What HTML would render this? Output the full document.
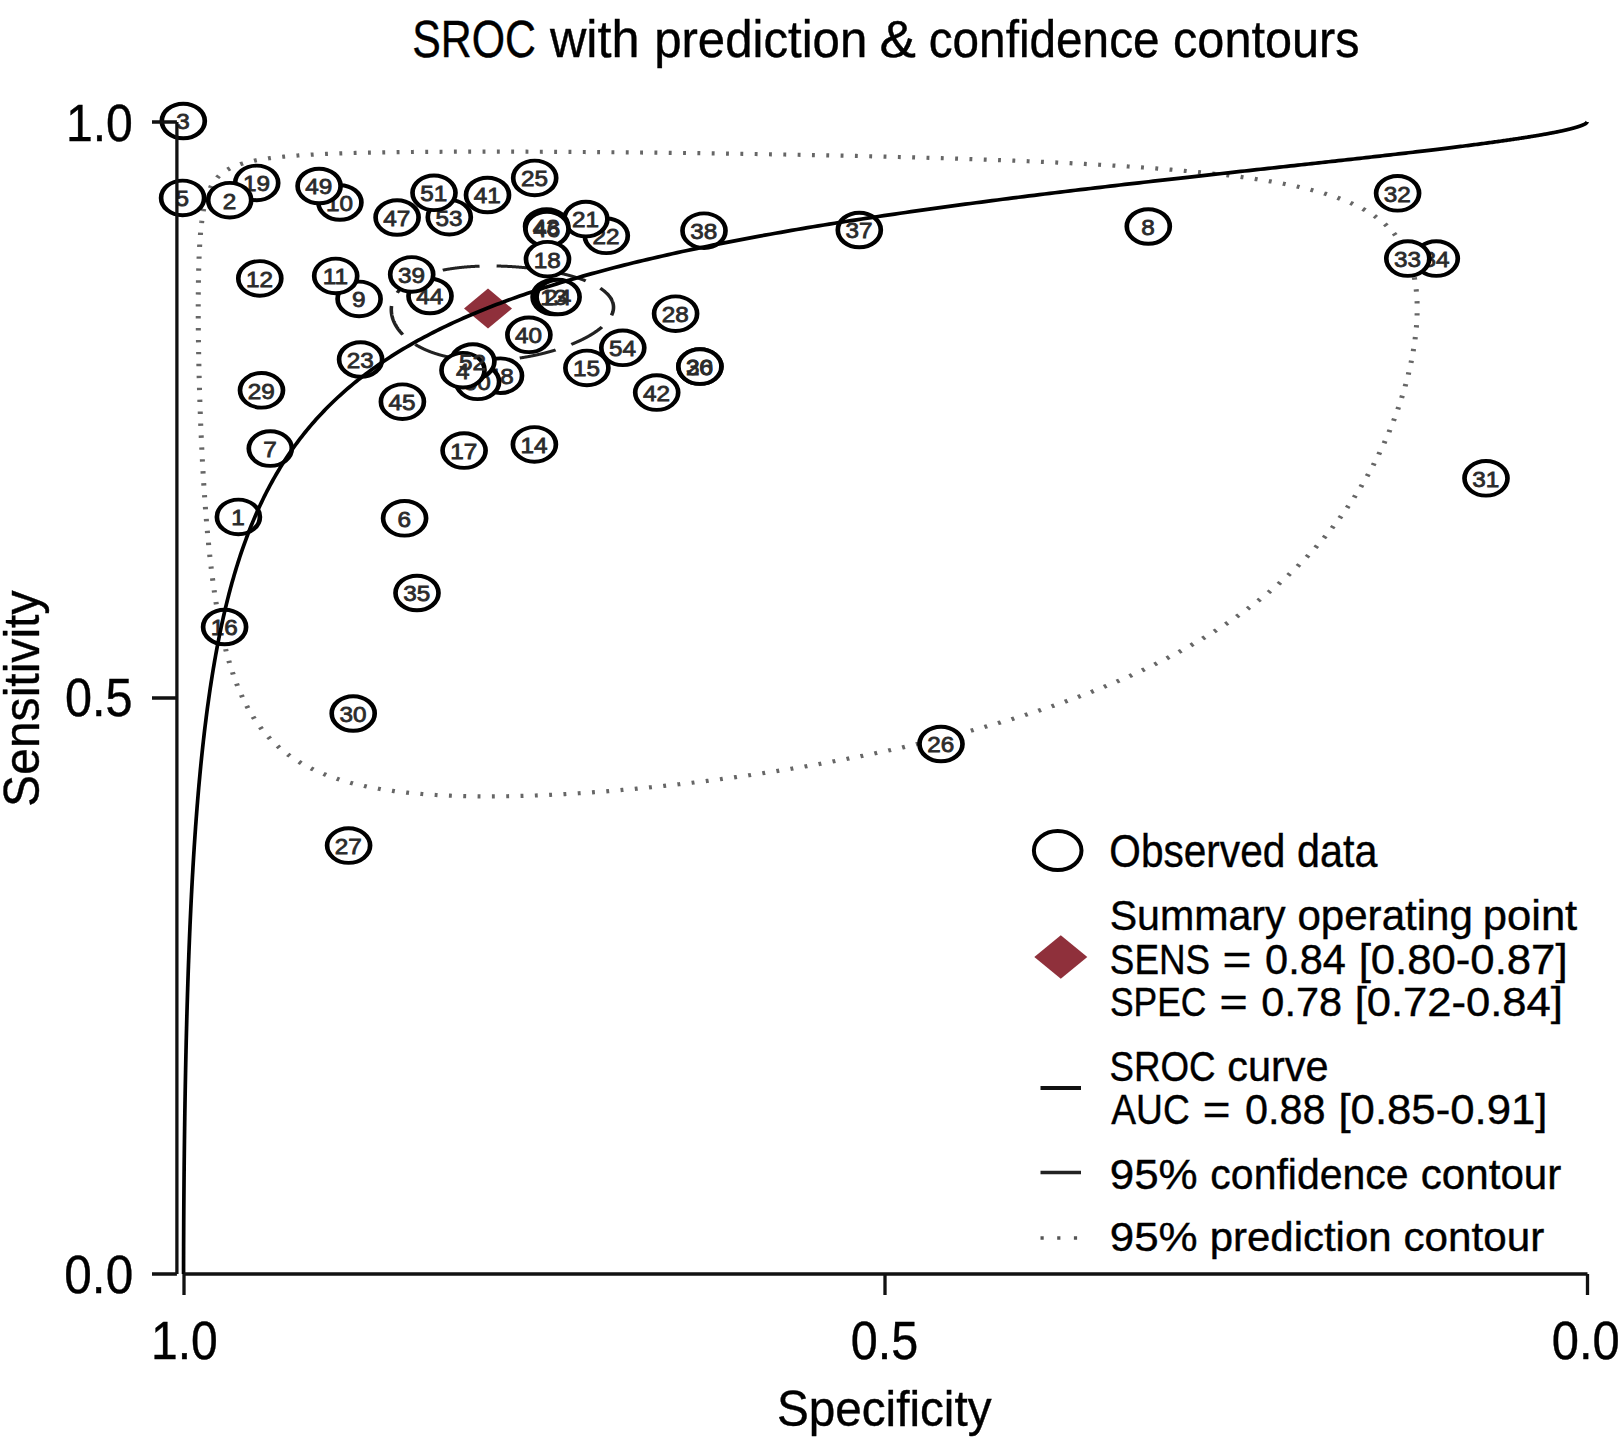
<!DOCTYPE html>
<html><head><meta charset="utf-8"><style>html,body{margin:0;padding:0;background:#fff}svg{display:block}</style></head>
<body><svg width="1620" height="1453" viewBox="0 0 1620 1453">
<rect width="1620" height="1453" fill="#fff"/>
<path transform="scale(1.2,1)" d="M1180.98,308.50 L1180.98,307.85 L1180.98,307.20 L1180.98,306.55 L1180.97,305.91 L1180.96,305.27 L1180.95,304.62 L1180.94,303.98 L1180.93,303.35 L1180.91,302.71 L1180.90,302.08 L1180.88,301.45 L1180.86,300.81 L1180.83,300.19 L1180.81,299.56 L1180.78,298.93 L1180.76,298.31 L1180.73,297.69 L1180.70,297.07 L1180.66,296.45 L1180.63,295.84 L1180.59,295.22 L1180.55,294.61 L1180.51,294.00 L1180.47,293.39 L1180.43,292.79 L1180.38,292.18 L1180.33,291.58 L1180.28,290.98 L1180.23,290.38 L1180.18,289.78 L1180.13,289.19 L1180.07,288.60 L1180.01,288.00 L1179.95,287.41 L1179.89,286.83 L1179.83,286.24 L1179.76,285.65 L1179.69,285.07 L1179.62,284.49 L1179.55,283.91 L1179.48,283.34 L1179.40,282.76 L1179.33,282.19 L1179.25,281.62 L1179.17,281.05 L1179.09,280.48 L1179.00,279.91 L1178.92,279.35 L1178.83,278.79 L1178.74,278.22 L1178.65,277.67 L1178.56,277.11 L1178.46,276.55 L1178.37,276.00 L1178.27,275.45 L1178.17,274.90 L1178.07,274.35 L1177.96,273.80 L1177.85,273.26 L1177.75,272.72 L1177.64,272.18 L1177.53,271.64 L1177.41,271.10 L1177.30,270.57 L1177.18,270.03 L1177.06,269.50 L1176.94,268.97 L1176.82,268.44 L1176.69,267.92 L1176.56,267.39 L1176.44,266.87 L1176.31,266.35 L1176.17,265.83 L1176.04,265.31 L1175.90,264.79 L1175.76,264.28 L1175.62,263.77 L1175.48,263.26 L1175.34,262.75 L1175.19,262.24 L1175.04,261.74 L1174.89,261.23 L1174.74,260.73 L1174.59,260.23 L1174.43,259.73 L1174.27,259.24 L1174.11,258.74 L1173.95,258.25 L1173.79,257.76 L1173.62,257.27 L1173.46,256.78 L1173.29,256.29 L1173.11,255.81 L1172.94,255.33 L1172.76,254.84 L1172.59,254.36 L1172.41,253.89 L1172.23,253.41 L1172.04,252.94 L1171.86,252.46 L1171.67,251.99 L1171.48,251.52 L1171.29,251.06 L1171.09,250.59 L1170.90,250.13 L1170.70,249.67 L1170.50,249.20 L1170.30,248.75 L1170.09,248.29 L1169.89,247.83 L1169.68,247.38 L1169.47,246.93 L1169.25,246.48 L1169.04,246.03 L1168.82,245.58 L1168.60,245.13 L1168.38,244.69 L1168.16,244.25 L1167.93,243.81 L1167.70,243.37 L1167.48,242.93 L1167.24,242.49 L1167.01,242.06 L1166.77,241.63 L1166.53,241.20 L1166.29,240.77 L1166.05,240.34 L1165.81,239.91 L1165.56,239.49 L1165.31,239.07 L1165.06,238.64 L1164.80,238.22 L1164.55,237.81 L1164.29,237.39 L1164.03,236.97 L1163.77,236.56 L1163.50,236.15 L1163.23,235.74 L1162.96,235.33 L1162.69,234.92 L1162.42,234.52 L1162.14,234.11 L1161.86,233.71 L1161.58,233.31 L1161.30,232.91 L1161.01,232.51 L1160.73,232.12 L1160.43,231.72 L1160.14,231.33 L1159.85,230.94 L1159.55,230.55 L1159.25,230.16 L1158.95,229.77 L1158.64,229.38 L1158.34,229.00 L1158.03,228.62 L1157.71,228.24 L1157.40,227.86 L1157.08,227.48 L1156.77,227.10 L1156.44,226.73 L1156.12,226.35 L1155.79,225.98 L1155.46,225.61 L1155.13,225.24 L1154.80,224.87 L1154.46,224.51 L1154.12,224.14 L1153.78,223.78 L1153.44,223.42 L1153.09,223.06 L1152.74,222.70 L1152.39,222.34 L1152.04,221.98 L1151.68,221.63 L1151.32,221.27 L1150.96,220.92 L1150.60,220.57 L1150.23,220.22 L1149.86,219.87 L1149.49,219.53 L1149.11,219.18 L1148.74,218.84 L1148.36,218.50 L1147.97,218.16 L1147.59,217.82 L1147.20,217.48 L1146.81,217.14 L1146.41,216.81 L1146.02,216.47 L1145.62,216.14 L1145.22,215.81 L1144.81,215.48 L1144.41,215.15 L1144.00,214.83 L1143.58,214.50 L1143.17,214.17 L1142.75,213.85 L1142.33,213.53 L1141.91,213.21 L1141.48,212.89 L1141.05,212.57 L1140.62,212.26 L1140.18,211.94 L1139.74,211.63 L1139.30,211.31 L1138.86,211.00 L1138.41,210.69 L1137.96,210.38 L1137.51,210.08 L1137.05,209.77 L1136.60,209.47 L1136.14,209.16 L1135.67,208.86 L1135.20,208.56 L1134.73,208.26 L1134.26,207.96 L1133.78,207.66 L1133.31,207.37 L1132.82,207.07 L1132.34,206.78 L1131.85,206.49 L1131.36,206.20 L1130.86,205.91 L1130.37,205.62 L1129.87,205.33 L1129.36,205.04 L1128.85,204.76 L1128.34,204.48 L1127.83,204.19 L1127.32,203.91 L1126.80,203.63 L1126.27,203.35 L1125.75,203.08 L1125.22,202.80 L1124.69,202.52 L1124.15,202.25 L1123.61,201.98 L1123.07,201.70 L1122.53,201.43 L1121.98,201.16 L1121.43,200.90 L1120.87,200.63 L1120.31,200.36 L1119.75,200.10 L1119.19,199.83 L1118.62,199.57 L1118.05,199.31 L1117.47,199.05 L1116.89,198.79 L1116.31,198.53 L1115.73,198.28 L1115.14,198.02 L1114.54,197.76 L1113.95,197.51 L1113.35,197.26 L1112.75,197.01 L1112.14,196.76 L1111.53,196.51 L1110.92,196.26 L1110.30,196.01 L1109.68,195.77 L1109.06,195.52 L1108.43,195.28 L1107.80,195.03 L1107.17,194.79 L1106.53,194.55 L1105.89,194.31 L1105.24,194.07 L1104.60,193.84 L1103.94,193.60 L1103.29,193.36 L1102.63,193.13 L1101.97,192.90 L1101.30,192.66 L1100.63,192.43 L1099.95,192.20 L1099.28,191.97 L1098.59,191.75 L1097.91,191.52 L1097.22,191.29 L1096.53,191.07 L1095.83,190.84 L1095.13,190.62 L1094.42,190.40 L1093.71,190.18 L1093.00,189.96 L1092.29,189.74 L1091.57,189.52 L1090.84,189.30 L1090.11,189.08 L1089.38,188.87 L1088.65,188.65 L1087.91,188.44 L1087.16,188.23 L1086.42,188.02 L1085.67,187.81 L1084.91,187.60 L1084.15,187.39 L1083.39,187.18 L1082.62,186.97 L1081.85,186.77 L1081.07,186.56 L1080.29,186.36 L1079.51,186.15 L1078.72,185.95 L1077.93,185.75 L1077.13,185.55 L1076.33,185.35 L1075.53,185.15 L1074.72,184.96 L1073.91,184.76 L1073.09,184.56 L1072.27,184.37 L1071.45,184.17 L1070.62,183.98 L1069.78,183.79 L1068.94,183.60 L1068.10,183.41 L1067.26,183.22 L1066.41,183.03 L1065.55,182.84 L1064.69,182.65 L1063.83,182.47 L1062.96,182.28 L1062.09,182.10 L1061.21,181.91 L1060.33,181.73 L1059.44,181.55 L1058.56,181.37 L1057.66,181.19 L1056.76,181.01 L1055.86,180.83 L1054.95,180.65 L1054.04,180.47 L1053.12,180.30 L1052.20,180.12 L1051.28,179.95 L1050.35,179.77 L1049.42,179.60 L1048.48,179.43 L1047.53,179.26 L1046.59,179.08 L1045.63,178.92 L1044.68,178.75 L1043.72,178.58 L1042.75,178.41 L1041.78,178.24 L1040.80,178.08 L1039.82,177.91 L1038.84,177.75 L1037.85,177.58 L1036.86,177.42 L1035.86,177.26 L1034.86,177.10 L1033.85,176.94 L1032.84,176.78 L1031.82,176.62 L1030.80,176.46 L1029.77,176.30 L1028.74,176.15 L1027.71,175.99 L1026.67,175.84 L1025.62,175.68 L1024.57,175.53 L1023.52,175.37 L1022.46,175.22 L1021.40,175.07 L1020.33,174.92 L1019.25,174.77 L1018.17,174.62 L1017.09,174.47 L1016.00,174.32 L1014.91,174.17 L1013.81,174.03 L1012.71,173.88 L1011.60,173.74 L1010.49,173.59 L1009.38,173.45 L1008.25,173.30 L1007.13,173.16 L1006.00,173.02 L1004.86,172.88 L1003.72,172.74 L1002.57,172.60 L1001.42,172.46 L1000.27,172.32 L999.11,172.18 L997.94,172.05 L996.77,171.91 L995.60,171.77 L994.42,171.64 L993.23,171.50 L992.04,171.37 L990.85,171.24 L989.65,171.10 L988.44,170.97 L987.23,170.84 L986.02,170.71 L984.80,170.58 L983.57,170.45 L982.34,170.32 L981.11,170.19 L979.87,170.07 L978.63,169.94 L977.38,169.81 L976.12,169.69 L974.86,169.56 L973.60,169.44 L972.33,169.31 L971.06,169.19 L969.78,169.07 L968.50,168.95 L967.21,168.82 L965.91,168.70 L964.61,168.58 L963.31,168.46 L962.00,168.34 L960.69,168.23 L959.37,168.11 L958.05,167.99 L956.72,167.87 L955.39,167.76 L954.05,167.64 L952.71,167.53 L951.36,167.41 L950.01,167.30 L948.65,167.19 L947.29,167.07 L945.92,166.96 L944.55,166.85 L943.17,166.74 L941.79,166.63 L940.40,166.52 L939.01,166.41 L937.61,166.30 L936.21,166.19 L934.80,166.09 L933.39,165.98 L931.98,165.87 L930.56,165.77 L929.13,165.66 L927.70,165.56 L926.27,165.45 L924.83,165.35 L923.38,165.24 L921.93,165.14 L920.48,165.04 L919.02,164.94 L917.55,164.84 L916.09,164.73 L914.61,164.63 L913.13,164.53 L911.65,164.44 L910.16,164.34 L908.67,164.24 L907.18,164.14 L905.67,164.04 L904.17,163.95 L902.66,163.85 L901.14,163.76 L899.62,163.66 L898.10,163.57 L896.57,163.47 L895.04,163.38 L893.50,163.28 L891.96,163.19 L890.41,163.10 L888.86,163.01 L887.30,162.92 L885.74,162.83 L884.18,162.74 L882.61,162.65 L881.04,162.56 L879.46,162.47 L877.88,162.38 L876.29,162.29 L874.70,162.20 L873.10,162.12 L871.50,162.03 L869.90,161.94 L868.29,161.86 L866.68,161.77 L865.06,161.69 L863.44,161.61 L861.82,161.52 L860.19,161.44 L858.56,161.36 L856.92,161.27 L855.28,161.19 L853.64,161.11 L851.99,161.03 L850.33,160.95 L848.68,160.87 L847.02,160.79 L845.35,160.71 L843.68,160.63 L842.01,160.55 L840.34,160.47 L838.66,160.40 L836.97,160.32 L835.28,160.24 L833.59,160.17 L831.90,160.09 L830.20,160.02 L828.50,159.94 L826.79,159.87 L825.08,159.79 L823.37,159.72 L821.66,159.64 L819.94,159.57 L818.21,159.50 L816.49,159.43 L814.76,159.36 L813.02,159.28 L811.29,159.21 L809.55,159.14 L807.81,159.07 L806.06,159.00 L804.31,158.93 L802.56,158.87 L800.80,158.80 L799.04,158.73 L797.28,158.66 L795.52,158.59 L793.75,158.53 L791.98,158.46 L790.21,158.40 L788.43,158.33 L786.65,158.26 L784.87,158.20 L783.09,158.14 L781.30,158.07 L779.51,158.01 L777.72,157.94 L775.92,157.88 L774.13,157.82 L772.33,157.76 L770.53,157.69 L768.72,157.63 L766.91,157.57 L765.10,157.51 L763.29,157.45 L761.48,157.39 L759.66,157.33 L757.84,157.27 L756.02,157.21 L754.20,157.16 L752.38,157.10 L750.55,157.04 L748.72,156.98 L746.89,156.93 L745.06,156.87 L743.23,156.81 L741.39,156.76 L739.55,156.70 L737.71,156.65 L735.87,156.59 L734.03,156.54 L732.18,156.48 L730.34,156.43 L728.49,156.37 L726.64,156.32 L724.79,156.27 L722.94,156.22 L721.09,156.16 L719.24,156.11 L717.38,156.06 L715.53,156.01 L713.67,155.96 L711.81,155.91 L709.95,155.86 L708.09,155.81 L706.23,155.76 L704.37,155.71 L702.51,155.66 L700.64,155.61 L698.78,155.57 L696.91,155.52 L695.05,155.47 L693.18,155.42 L691.31,155.38 L689.45,155.33 L687.58,155.29 L685.71,155.24 L683.84,155.19 L681.97,155.15 L680.11,155.10 L678.24,155.06 L676.37,155.02 L674.50,154.97 L672.63,154.93 L670.76,154.89 L668.89,154.84 L667.02,154.80 L665.15,154.76 L663.28,154.72 L661.41,154.68 L659.55,154.63 L657.68,154.59 L655.81,154.55 L653.94,154.51 L652.08,154.47 L650.21,154.43 L648.35,154.39 L646.48,154.35 L644.62,154.32 L642.75,154.28 L640.89,154.24 L639.03,154.20 L637.17,154.16 L635.31,154.13 L633.45,154.09 L631.59,154.05 L629.74,154.02 L627.88,153.98 L626.02,153.95 L624.17,153.91 L622.32,153.87 L620.47,153.84 L618.62,153.81 L616.77,153.77 L614.92,153.74 L613.08,153.70 L611.24,153.67 L609.39,153.64 L607.55,153.60 L605.72,153.57 L603.88,153.54 L602.04,153.51 L600.21,153.48 L598.38,153.45 L596.55,153.41 L594.72,153.38 L592.90,153.35 L591.07,153.32 L589.25,153.29 L587.43,153.26 L585.62,153.23 L583.80,153.21 L581.99,153.18 L580.18,153.15 L578.37,153.12 L576.57,153.09 L574.77,153.06 L572.97,153.04 L571.17,153.01 L569.37,152.98 L567.58,152.96 L565.79,152.93 L564.00,152.91 L562.22,152.88 L560.44,152.85 L558.66,152.83 L556.88,152.80 L555.11,152.78 L553.34,152.76 L551.58,152.73 L549.81,152.71 L548.05,152.68 L546.29,152.66 L544.54,152.64 L542.79,152.62 L541.04,152.59 L539.30,152.57 L537.56,152.55 L535.82,152.53 L534.08,152.51 L532.35,152.49 L530.63,152.47 L528.90,152.45 L527.18,152.42 L525.46,152.41 L523.75,152.39 L522.04,152.37 L520.34,152.35 L518.63,152.33 L516.94,152.31 L515.24,152.29 L513.55,152.27 L511.86,152.26 L510.18,152.24 L508.50,152.22 L506.83,152.20 L505.16,152.19 L503.49,152.17 L501.83,152.15 L500.17,152.14 L498.51,152.12 L496.86,152.11 L495.21,152.09 L493.57,152.08 L491.93,152.06 L490.30,152.05 L488.67,152.03 L487.05,152.02 L485.43,152.01 L483.81,151.99 L482.20,151.98 L480.59,151.97 L478.99,151.96 L477.39,151.94 L475.79,151.93 L474.20,151.92 L472.62,151.91 L471.04,151.90 L469.46,151.89 L467.89,151.87 L466.32,151.86 L464.76,151.85 L463.21,151.84 L461.65,151.83 L460.11,151.83 L458.56,151.82 L457.02,151.81 L455.49,151.80 L453.96,151.79 L452.44,151.78 L450.92,151.77 L449.40,151.77 L447.90,151.76 L446.39,151.75 L444.89,151.74 L443.40,151.74 L441.91,151.73 L440.42,151.73 L438.94,151.72 L437.47,151.71 L436.00,151.71 L434.54,151.70 L433.08,151.70 L431.62,151.69 L430.17,151.69 L428.73,151.69 L427.29,151.68 L425.86,151.68 L424.43,151.67 L423.00,151.67 L421.59,151.67 L420.17,151.67 L418.76,151.66 L417.36,151.66 L415.96,151.66 L414.57,151.66 L413.18,151.66 L411.80,151.66 L410.43,151.66 L409.05,151.65 L407.69,151.65 L406.33,151.65 L404.97,151.65 L403.62,151.66 L402.28,151.66 L400.94,151.66 L399.60,151.66 L398.27,151.66 L396.95,151.66 L395.63,151.66 L394.32,151.67 L393.01,151.67 L391.71,151.67 L390.41,151.67 L389.12,151.68 L387.83,151.68 L386.55,151.68 L385.27,151.69 L384.00,151.69 L382.74,151.70 L381.48,151.70 L380.22,151.71 L378.97,151.71 L377.73,151.72 L376.49,151.72 L375.26,151.73 L374.03,151.73 L372.81,151.74 L371.59,151.75 L370.38,151.76 L369.17,151.76 L367.97,151.77 L366.77,151.78 L365.58,151.79 L364.40,151.79 L363.22,151.80 L362.04,151.81 L360.87,151.82 L359.71,151.83 L358.55,151.84 L357.40,151.85 L356.25,151.86 L355.11,151.87 L353.97,151.88 L352.84,151.89 L351.71,151.90 L350.59,151.91 L349.47,151.93 L348.36,151.94 L347.26,151.95 L346.16,151.96 L345.06,151.97 L343.97,151.99 L342.89,152.00 L341.81,152.01 L340.73,152.03 L339.66,152.04 L338.60,152.06 L337.54,152.07 L336.49,152.08 L335.44,152.10 L334.39,152.12 L333.36,152.13 L332.32,152.15 L331.29,152.16 L330.27,152.18 L329.25,152.20 L328.24,152.21 L327.23,152.23 L326.23,152.25 L325.23,152.26 L324.24,152.28 L323.26,152.30 L322.27,152.32 L321.30,152.34 L320.32,152.36 L319.36,152.38 L318.39,152.40 L317.44,152.41 L316.49,152.43 L315.54,152.46 L314.60,152.48 L313.66,152.50 L312.73,152.52 L311.80,152.54 L310.88,152.56 L309.96,152.58 L309.04,152.60 L308.14,152.63 L307.23,152.65 L306.33,152.67 L305.44,152.70 L304.55,152.72 L303.67,152.74 L302.79,152.77 L301.91,152.79 L301.04,152.82 L300.18,152.84 L299.32,152.87 L298.46,152.89 L297.61,152.92 L296.76,152.94 L295.92,152.97 L295.09,153.00 L294.25,153.02 L293.42,153.05 L292.60,153.08 L291.78,153.11 L290.97,153.13 L290.16,153.16 L289.35,153.19 L288.55,153.22 L287.76,153.25 L286.96,153.28 L286.18,153.31 L285.39,153.34 L284.61,153.37 L283.84,153.40 L283.07,153.43 L282.31,153.46 L281.54,153.49 L280.79,153.52 L280.04,153.56 L279.29,153.59 L278.54,153.62 L277.80,153.65 L277.07,153.69 L276.34,153.72 L275.61,153.75 L274.89,153.79 L274.17,153.82 L273.45,153.86 L272.74,153.89 L272.04,153.93 L271.34,153.96 L270.64,154.00 L269.94,154.03 L269.25,154.07 L268.57,154.11 L267.89,154.15 L267.21,154.18 L266.54,154.22 L265.87,154.26 L265.20,154.30 L264.54,154.33 L263.88,154.37 L263.23,154.41 L262.58,154.45 L261.93,154.49 L261.29,154.53 L260.65,154.57 L260.01,154.61 L259.38,154.65 L258.76,154.70 L258.13,154.74 L257.51,154.78 L256.90,154.82 L256.29,154.86 L255.68,154.91 L255.07,154.95 L254.47,154.99 L253.87,155.04 L253.28,155.08 L252.69,155.13 L252.10,155.17 L251.52,155.22 L250.94,155.26 L250.36,155.31 L249.79,155.35 L249.22,155.40 L248.66,155.45 L248.09,155.50 L247.53,155.54 L246.98,155.59 L246.43,155.64 L245.88,155.69 L245.33,155.74 L244.79,155.79 L244.25,155.83 L243.72,155.88 L243.19,155.93 L242.66,155.99 L242.13,156.04 L241.61,156.09 L241.09,156.14 L240.58,156.19 L240.06,156.24 L239.56,156.30 L239.05,156.35 L238.55,156.40 L238.05,156.46 L237.55,156.51 L237.06,156.56 L236.57,156.62 L236.08,156.67 L235.60,156.73 L235.11,156.78 L234.64,156.84 L234.16,156.90 L233.69,156.95 L233.22,157.01 L232.75,157.07 L232.29,157.13 L231.83,157.18 L231.37,157.24 L230.92,157.30 L230.47,157.36 L230.02,157.42 L229.57,157.48 L229.13,157.54 L228.69,157.60 L228.25,157.66 L227.82,157.73 L227.39,157.79 L226.96,157.85 L226.53,157.91 L226.11,157.98 L225.68,158.04 L225.27,158.10 L224.85,158.17 L224.44,158.23 L224.03,158.30 L223.62,158.36 L223.21,158.43 L222.81,158.49 L222.41,158.56 L222.02,158.63 L221.62,158.70 L221.23,158.76 L220.84,158.83 L220.45,158.90 L220.07,158.97 L219.68,159.04 L219.30,159.11 L218.93,159.18 L218.55,159.25 L218.18,159.32 L217.81,159.39 L217.44,159.46 L217.08,159.54 L216.71,159.61 L216.35,159.68 L215.99,159.75 L215.64,159.83 L215.29,159.90 L214.93,159.98 L214.58,160.05 L214.24,160.13 L213.89,160.20 L213.55,160.28 L213.21,160.36 L212.87,160.44 L212.54,160.51 L212.20,160.59 L211.87,160.67 L211.54,160.75 L211.22,160.83 L210.89,160.91 L210.57,160.99 L210.25,161.07 L209.93,161.15 L209.61,161.23 L209.30,161.31 L208.99,161.40 L208.68,161.48 L208.37,161.56 L208.06,161.65 L207.76,161.73 L207.46,161.82 L207.16,161.90 L206.86,161.99 L206.56,162.07 L206.27,162.16 L205.97,162.25 L205.68,162.34 L205.39,162.42 L205.11,162.51 L204.82,162.60 L204.54,162.69 L204.26,162.78 L203.98,162.87 L203.70,162.96 L203.43,163.05 L203.15,163.15 L202.88,163.24 L202.61,163.33 L202.34,163.42 L202.08,163.52 L201.81,163.61 L201.55,163.71 L201.29,163.80 L201.03,163.90 L200.77,164.00 L200.51,164.09 L200.26,164.19 L200.00,164.29 L199.75,164.39 L199.50,164.49 L199.26,164.58 L199.01,164.68 L198.76,164.78 L198.52,164.89 L198.28,164.99 L198.04,165.09 L197.80,165.19 L197.57,165.30 L197.33,165.40 L197.10,165.50 L196.86,165.61 L196.63,165.71 L196.40,165.82 L196.18,165.92 L195.95,166.03 L195.73,166.14 L195.50,166.25 L195.28,166.36 L195.06,166.46 L194.84,166.57 L194.63,166.68 L194.41,166.79 L194.20,166.91 L193.98,167.02 L193.77,167.13 L193.56,167.24 L193.35,167.36 L193.15,167.47 L192.94,167.59 L192.74,167.70 L192.53,167.82 L192.33,167.93 L192.13,168.05 L191.93,168.17 L191.73,168.29 L191.54,168.40 L191.34,168.52 L191.15,168.64 L190.95,168.76 L190.76,168.89 L190.57,169.01 L190.38,169.13 L190.20,169.25 L190.01,169.38 L189.83,169.50 L189.64,169.62 L189.46,169.75 L189.28,169.88 L189.10,170.00 L188.92,170.13 L188.74,170.26 L188.56,170.39 L188.39,170.52 L188.21,170.64 L188.04,170.78 L187.87,170.91 L187.70,171.04 L187.53,171.17 L187.36,171.30 L187.19,171.44 L187.03,171.57 L186.86,171.71 L186.70,171.84 L186.53,171.98 L186.37,172.11 L186.21,172.25 L186.05,172.39 L185.89,172.53 L185.73,172.67 L185.58,172.81 L185.42,172.95 L185.27,173.09 L185.11,173.23 L184.96,173.38 L184.81,173.52 L184.66,173.66 L184.51,173.81 L184.36,173.95 L184.21,174.10 L184.07,174.25 L183.92,174.40 L183.78,174.54 L183.63,174.69 L183.49,174.84 L183.35,174.99 L183.21,175.15 L183.07,175.30 L182.93,175.45 L182.79,175.60 L182.65,175.76 L182.52,175.91 L182.38,176.07 L182.25,176.22 L182.11,176.38 L181.98,176.54 L181.85,176.70 L181.72,176.86 L181.59,177.02 L181.46,177.18 L181.33,177.34 L181.20,177.50 L181.08,177.67 L180.95,177.83 L180.83,178.00 L180.70,178.16 L180.58,178.33 L180.46,178.49 L180.34,178.66 L180.22,178.83 L180.10,179.00 L179.98,179.17 L179.86,179.34 L179.74,179.51 L179.62,179.69 L179.51,179.86 L179.39,180.03 L179.28,180.21 L179.16,180.38 L179.05,180.56 L178.94,180.74 L178.83,180.92 L178.72,181.10 L178.61,181.28 L178.50,181.46 L178.39,181.64 L178.28,181.82 L178.17,182.00 L178.07,182.19 L177.96,182.37 L177.86,182.56 L177.75,182.75 L177.65,182.93 L177.55,183.12 L177.45,183.31 L177.34,183.50 L177.24,183.69 L177.14,183.88 L177.04,184.08 L176.94,184.27 L176.85,184.46 L176.75,184.66 L176.65,184.86 L176.56,185.05 L176.46,185.25 L176.37,185.45 L176.27,185.65 L176.18,185.85 L176.09,186.05 L175.99,186.26 L175.90,186.46 L175.81,186.66 L175.72,186.87 L175.63,187.08 L175.54,187.28 L175.45,187.49 L175.36,187.70 L175.28,187.91 L175.19,188.12 L175.10,188.33 L175.02,188.55 L174.93,188.76 L174.85,188.98 L174.76,189.19 L174.68,189.41 L174.60,189.63 L174.52,189.85 L174.43,190.07 L174.35,190.29 L174.27,190.51 L174.19,190.73 L174.11,190.95 L174.03,191.18 L173.95,191.40 L173.88,191.63 L173.80,191.86 L173.72,192.09 L173.65,192.32 L173.57,192.55 L173.49,192.78 L173.42,193.01 L173.35,193.25 L173.27,193.48 L173.20,193.72 L173.13,193.95 L173.05,194.19 L172.98,194.43 L172.91,194.67 L172.84,194.91 L172.77,195.16 L172.70,195.40 L172.63,195.64 L172.56,195.89 L172.49,196.14 L172.42,196.38 L172.36,196.63 L172.29,196.88 L172.22,197.13 L172.16,197.38 L172.09,197.64 L172.03,197.89 L171.96,198.15 L171.90,198.40 L171.83,198.66 L171.77,198.92 L171.71,199.18 L171.64,199.44 L171.58,199.70 L171.52,199.97 L171.46,200.23 L171.40,200.50 L171.34,200.76 L171.28,201.03 L171.22,201.30 L171.16,201.57 L171.10,201.84 L171.04,202.11 L170.98,202.39 L170.93,202.66 L170.87,202.94 L170.81,203.21 L170.76,203.49 L170.70,203.77 L170.65,204.05 L170.59,204.33 L170.54,204.62 L170.48,204.90 L170.43,205.19 L170.37,205.47 L170.32,205.76 L170.27,206.05 L170.21,206.34 L170.16,206.63 L170.11,206.93 L170.06,207.22 L170.01,207.52 L169.96,207.81 L169.91,208.11 L169.86,208.41 L169.81,208.71 L169.76,209.01 L169.71,209.31 L169.66,209.62 L169.61,209.92 L169.57,210.23 L169.52,210.54 L169.47,210.85 L169.42,211.16 L169.38,211.47 L169.33,211.78 L169.29,212.10 L169.24,212.41 L169.20,212.73 L169.15,213.05 L169.11,213.37 L169.06,213.69 L169.02,214.01 L168.98,214.34 L168.93,214.66 L168.89,214.99 L168.85,215.32 L168.81,215.65 L168.76,215.98 L168.72,216.31 L168.68,216.64 L168.64,216.98 L168.60,217.31 L168.56,217.65 L168.52,217.99 L168.48,218.33 L168.44,218.67 L168.40,219.01 L168.36,219.36 L168.32,219.70 L168.29,220.05 L168.25,220.40 L168.21,220.75 L168.17,221.10 L168.14,221.45 L168.10,221.81 L168.06,222.16 L168.03,222.52 L167.99,222.88 L167.96,223.24 L167.92,223.60 L167.89,223.96 L167.85,224.32 L167.82,224.69 L167.78,225.06 L167.75,225.43 L167.71,225.80 L167.68,226.17 L167.65,226.54 L167.62,226.91 L167.58,227.29 L167.55,227.67 L167.52,228.05 L167.49,228.43 L167.46,228.81 L167.42,229.19 L167.39,229.58 L167.36,229.96 L167.33,230.35 L167.30,230.74 L167.27,231.13 L167.24,231.52 L167.21,231.92 L167.18,232.31 L167.15,232.71 L167.13,233.11 L167.10,233.51 L167.07,233.91 L167.04,234.31 L167.01,234.72 L166.99,235.13 L166.96,235.53 L166.93,235.94 L166.91,236.35 L166.88,236.77 L166.85,237.18 L166.83,237.60 L166.80,238.01 L166.78,238.43 L166.75,238.85 L166.73,239.28 L166.70,239.70 L166.68,240.13 L166.65,240.55 L166.63,240.98 L166.60,241.41 L166.58,241.84 L166.56,242.28 L166.53,242.71 L166.51,243.15 L166.49,243.59 L166.46,244.03 L166.44,244.47 L166.42,244.91 L166.40,245.36 L166.38,245.80 L166.36,246.25 L166.33,246.70 L166.31,247.15 L166.29,247.61 L166.27,248.06 L166.25,248.52 L166.23,248.97 L166.21,249.43 L166.19,249.90 L166.17,250.36 L166.15,250.82 L166.13,251.29 L166.11,251.76 L166.10,252.23 L166.08,252.70 L166.06,253.17 L166.04,253.65 L166.02,254.13 L166.01,254.60 L165.99,255.08 L165.97,255.57 L165.95,256.05 L165.94,256.54 L165.92,257.02 L165.90,257.51 L165.89,258.00 L165.87,258.49 L165.86,258.99 L165.84,259.48 L165.83,259.98 L165.81,260.48 L165.80,260.98 L165.78,261.48 L165.77,261.99 L165.75,262.49 L165.74,263.00 L165.72,263.51 L165.71,264.02 L165.70,264.54 L165.68,265.05 L165.67,265.57 L165.66,266.09 L165.64,266.61 L165.63,267.13 L165.62,267.65 L165.60,268.18 L165.59,268.71 L165.58,269.23 L165.57,269.77 L165.56,270.30 L165.55,270.83 L165.53,271.37 L165.52,271.91 L165.51,272.45 L165.50,272.99 L165.49,273.53 L165.48,274.08 L165.47,274.62 L165.46,275.17 L165.45,275.72 L165.44,276.28 L165.43,276.83 L165.42,277.39 L165.41,277.94 L165.41,278.50 L165.40,279.07 L165.39,279.63 L165.38,280.19 L165.37,280.76 L165.36,281.33 L165.36,281.90 L165.35,282.47 L165.34,283.05 L165.33,283.62 L165.33,284.20 L165.32,284.78 L165.31,285.36 L165.31,285.95 L165.30,286.53 L165.30,287.12 L165.29,287.71 L165.28,288.30 L165.28,288.89 L165.27,289.49 L165.27,290.08 L165.26,290.68 L165.26,291.28 L165.25,291.88 L165.25,292.49 L165.24,293.09 L165.24,293.70 L165.24,294.31 L165.23,294.92 L165.23,295.53 L165.22,296.15 L165.22,296.76 L165.22,297.38 L165.22,298.00 L165.21,298.62 L165.21,299.25 L165.21,299.87 L165.21,300.50 L165.20,301.13 L165.20,301.76 L165.20,302.39 L165.20,303.03 L165.20,303.67 L165.20,304.30 L165.19,304.94 L165.19,305.59 L165.19,306.23 L165.19,306.88 L165.19,307.52 L165.19,308.17 L165.19,308.83 L165.19,309.48 L165.19,310.13 L165.19,310.79 L165.19,311.45 L165.19,312.11 L165.20,312.77 L165.20,313.44 L165.20,314.10 L165.20,314.77 L165.20,315.44 L165.20,316.11 L165.21,316.79 L165.21,317.46 L165.21,318.14 L165.21,318.82 L165.22,319.50 L165.22,320.18 L165.22,320.87 L165.22,321.55 L165.23,322.24 L165.23,322.93 L165.24,323.62 L165.24,324.31 L165.24,325.01 L165.25,325.71 L165.25,326.41 L165.26,327.11 L165.26,327.81 L165.27,328.51 L165.27,329.22 L165.28,329.93 L165.28,330.64 L165.29,331.35 L165.30,332.06 L165.30,332.77 L165.31,333.49 L165.31,334.21 L165.32,334.93 L165.33,335.65 L165.33,336.38 L165.34,337.10 L165.35,337.83 L165.36,338.56 L165.36,339.29 L165.37,340.02 L165.38,340.76 L165.39,341.49 L165.40,342.23 L165.41,342.97 L165.41,343.71 L165.42,344.45 L165.43,345.20 L165.44,345.94 L165.45,346.69 L165.46,347.44 L165.47,348.19 L165.48,348.95 L165.49,349.70 L165.50,350.46 L165.51,351.22 L165.52,351.98 L165.53,352.74 L165.55,353.50 L165.56,354.27 L165.57,355.03 L165.58,355.80 L165.59,356.57 L165.60,357.34 L165.62,358.12 L165.63,358.89 L165.64,359.67 L165.66,360.45 L165.67,361.22 L165.68,362.01 L165.70,362.79 L165.71,363.57 L165.72,364.36 L165.74,365.15 L165.75,365.94 L165.77,366.73 L165.78,367.52 L165.80,368.32 L165.81,369.11 L165.83,369.91 L165.84,370.71 L165.86,371.51 L165.87,372.31 L165.89,373.11 L165.90,373.92 L165.92,374.73 L165.94,375.53 L165.95,376.34 L165.97,377.16 L165.99,377.97 L166.01,378.78 L166.02,379.60 L166.04,380.42 L166.06,381.24 L166.08,382.06 L166.10,382.88 L166.11,383.70 L166.13,384.53 L166.15,385.35 L166.17,386.18 L166.19,387.01 L166.21,387.84 L166.23,388.67 L166.25,389.50 L166.27,390.34 L166.29,391.17 L166.31,392.01 L166.33,392.85 L166.36,393.69 L166.38,394.53 L166.40,395.38 L166.42,396.22 L166.44,397.07 L166.46,397.91 L166.49,398.76 L166.51,399.61 L166.53,400.46 L166.56,401.31 L166.58,402.17 L166.60,403.02 L166.63,403.88 L166.65,404.74 L166.68,405.60 L166.70,406.46 L166.73,407.32 L166.75,408.18 L166.78,409.04 L166.80,409.91 L166.83,410.77 L166.85,411.64 L166.88,412.51 L166.91,413.38 L166.93,414.25 L166.96,415.12 L166.99,416.00 L167.01,416.87 L167.04,417.75 L167.07,418.62 L167.10,419.50 L167.13,420.38 L167.15,421.26 L167.18,422.14 L167.21,423.02 L167.24,423.91 L167.27,424.79 L167.30,425.68 L167.33,426.56 L167.36,427.45 L167.39,428.34 L167.42,429.23 L167.46,430.12 L167.49,431.01 L167.52,431.91 L167.55,432.80 L167.58,433.69 L167.62,434.59 L167.65,435.49 L167.68,436.38 L167.71,437.28 L167.75,438.18 L167.78,439.08 L167.82,439.98 L167.85,440.89 L167.89,441.79 L167.92,442.69 L167.96,443.60 L167.99,444.50 L168.03,445.41 L168.06,446.32 L168.10,447.23 L168.14,448.13 L168.17,449.04 L168.21,449.95 L168.25,450.87 L168.29,451.78 L168.32,452.69 L168.36,453.60 L168.40,454.52 L168.44,455.43 L168.48,456.35 L168.52,457.27 L168.56,458.18 L168.60,459.10 L168.64,460.02 L168.68,460.94 L168.72,461.86 L168.76,462.78 L168.81,463.70 L168.85,464.62 L168.89,465.54 L168.93,466.47 L168.98,467.39 L169.02,468.31 L169.06,469.24 L169.11,470.16 L169.15,471.09 L169.20,472.02 L169.24,472.94 L169.29,473.87 L169.33,474.80 L169.38,475.72 L169.42,476.65 L169.47,477.58 L169.52,478.51 L169.57,479.44 L169.61,480.37 L169.66,481.30 L169.71,482.23 L169.76,483.17 L169.81,484.10 L169.86,485.03 L169.91,485.96 L169.96,486.90 L170.01,487.83 L170.06,488.76 L170.11,489.70 L170.16,490.63 L170.21,491.56 L170.27,492.50 L170.32,493.43 L170.37,494.37 L170.43,495.30 L170.48,496.24 L170.54,497.18 L170.59,498.11 L170.65,499.05 L170.70,499.98 L170.76,500.92 L170.81,501.86 L170.87,502.79 L170.93,503.73 L170.98,504.67 L171.04,505.61 L171.10,506.54 L171.16,507.48 L171.22,508.42 L171.28,509.35 L171.34,510.29 L171.40,511.23 L171.46,512.17 L171.52,513.10 L171.58,514.04 L171.64,514.98 L171.71,515.92 L171.77,516.85 L171.83,517.79 L171.90,518.73 L171.96,519.66 L172.03,520.60 L172.09,521.54 L172.16,522.47 L172.22,523.41 L172.29,524.35 L172.36,525.28 L172.42,526.22 L172.49,527.15 L172.56,528.09 L172.63,529.03 L172.70,529.96 L172.77,530.90 L172.84,531.83 L172.91,532.77 L172.98,533.70 L173.05,534.63 L173.13,535.57 L173.20,536.50 L173.27,537.43 L173.35,538.37 L173.42,539.30 L173.49,540.23 L173.57,541.16 L173.65,542.09 L173.72,543.02 L173.80,543.95 L173.88,544.88 L173.95,545.81 L174.03,546.74 L174.11,547.67 L174.19,548.60 L174.27,549.53 L174.35,550.45 L174.43,551.38 L174.52,552.31 L174.60,553.23 L174.68,554.16 L174.76,555.08 L174.85,556.00 L174.93,556.93 L175.02,557.85 L175.10,558.77 L175.19,559.69 L175.28,560.61 L175.36,561.54 L175.45,562.45 L175.54,563.37 L175.63,564.29 L175.72,565.21 L175.81,566.13 L175.90,567.04 L175.99,567.96 L176.09,568.87 L176.18,569.79 L176.27,570.70 L176.37,571.61 L176.46,572.52 L176.56,573.44 L176.65,574.35 L176.75,575.25 L176.85,576.16 L176.94,577.07 L177.04,577.98 L177.14,578.88 L177.24,579.79 L177.34,580.69 L177.45,581.60 L177.55,582.50 L177.65,583.40 L177.75,584.30 L177.86,585.20 L177.96,586.10 L178.07,587.00 L178.17,587.89 L178.28,588.79 L178.39,589.68 L178.50,590.58 L178.61,591.47 L178.72,592.36 L178.83,593.25 L178.94,594.14 L179.05,595.03 L179.16,595.92 L179.28,596.81 L179.39,597.69 L179.51,598.58 L179.62,599.46 L179.74,600.34 L179.86,601.22 L179.98,602.10 L180.10,602.98 L180.22,603.86 L180.34,604.73 L180.46,605.61 L180.58,606.48 L180.70,607.36 L180.83,608.23 L180.95,609.10 L181.08,609.97 L181.20,610.84 L181.33,611.70 L181.46,612.57 L181.59,613.43 L181.72,614.29 L181.85,615.16 L181.98,616.02 L182.11,616.88 L182.25,617.73 L182.38,618.59 L182.52,619.44 L182.65,620.30 L182.79,621.15 L182.93,622.00 L183.07,622.85 L183.21,623.70 L183.35,624.55 L183.49,625.39 L183.63,626.23 L183.78,627.08 L183.92,627.92 L184.07,628.76 L184.21,629.60 L184.36,630.43 L184.51,631.27 L184.66,632.10 L184.81,632.93 L184.96,633.77 L185.11,634.59 L185.27,635.42 L185.42,636.25 L185.58,637.07 L185.73,637.90 L185.89,638.72 L186.05,639.54 L186.21,640.36 L186.37,641.17 L186.53,641.99 L186.70,642.80 L186.86,643.62 L187.03,644.43 L187.19,645.23 L187.36,646.04 L187.53,646.85 L187.70,647.65 L187.87,648.45 L188.04,649.26 L188.21,650.05 L188.39,650.85 L188.56,651.65 L188.74,652.44 L188.92,653.23 L189.10,654.02 L189.28,654.81 L189.46,655.60 L189.64,656.39 L189.83,657.17 L190.01,657.95 L190.20,658.73 L190.38,659.51 L190.57,660.29 L190.76,661.06 L190.95,661.84 L191.15,662.61 L191.34,663.38 L191.54,664.15 L191.73,664.91 L191.93,665.68 L192.13,666.44 L192.33,667.20 L192.53,667.96 L192.74,668.72 L192.94,669.47 L193.15,670.22 L193.35,670.98 L193.56,671.73 L193.77,672.47 L193.98,673.22 L194.20,673.96 L194.41,674.70 L194.63,675.44 L194.84,676.18 L195.06,676.92 L195.28,677.65 L195.50,678.39 L195.73,679.12 L195.95,679.85 L196.18,680.57 L196.40,681.30 L196.63,682.02 L196.86,682.74 L197.10,683.46 L197.33,684.18 L197.57,684.89 L197.80,685.60 L198.04,686.32 L198.28,687.03 L198.52,687.73 L198.76,688.44 L199.01,689.14 L199.26,689.84 L199.50,690.54 L199.75,691.24 L200.00,691.93 L200.26,692.62 L200.51,693.32 L200.77,694.00 L201.03,694.69 L201.29,695.38 L201.55,696.06 L201.81,696.74 L202.08,697.42 L202.34,698.09 L202.61,698.77 L202.88,699.44 L203.15,700.11 L203.43,700.78 L203.70,701.45 L203.98,702.11 L204.26,702.77 L204.54,703.43 L204.82,704.09 L205.11,704.74 L205.39,705.40 L205.68,706.05 L205.97,706.70 L206.27,707.34 L206.56,707.99 L206.86,708.63 L207.16,709.27 L207.46,709.91 L207.76,710.55 L208.06,711.18 L208.37,711.81 L208.68,712.44 L208.99,713.07 L209.30,713.69 L209.61,714.32 L209.93,714.94 L210.25,715.56 L210.57,716.17 L210.89,716.79 L211.22,717.40 L211.54,718.01 L211.87,718.62 L212.20,719.22 L212.54,719.83 L212.87,720.43 L213.21,721.03 L213.55,721.62 L213.89,722.22 L214.24,722.81 L214.58,723.40 L214.93,723.99 L215.29,724.57 L215.64,725.16 L215.99,725.74 L216.35,726.32 L216.71,726.89 L217.08,727.47 L217.44,728.04 L217.81,728.61 L218.18,729.18 L218.55,729.74 L218.93,730.30 L219.30,730.87 L219.68,731.42 L220.07,731.98 L220.45,732.53 L220.84,733.08 L221.23,733.63 L221.62,734.18 L222.02,734.73 L222.41,735.27 L222.81,735.81 L223.21,736.35 L223.62,736.88 L224.03,737.41 L224.44,737.94 L224.85,738.47 L225.27,739.00 L225.68,739.52 L226.11,740.04 L226.53,740.56 L226.96,741.08 L227.39,741.60 L227.82,742.11 L228.25,742.62 L228.69,743.13 L229.13,743.63 L229.57,744.13 L230.02,744.63 L230.47,745.13 L230.92,745.63 L231.37,746.12 L231.83,746.61 L232.29,747.10 L232.75,747.59 L233.22,748.07 L233.69,748.55 L234.16,749.03 L234.64,749.51 L235.11,749.99 L235.60,750.46 L236.08,750.93 L236.57,751.40 L237.06,751.86 L237.55,752.32 L238.05,752.78 L238.55,753.24 L239.05,753.70 L239.56,754.15 L240.06,754.60 L240.58,755.05 L241.09,755.50 L241.61,755.94 L242.13,756.38 L242.66,756.82 L243.19,757.26 L243.72,757.69 L244.25,758.13 L244.79,758.56 L245.33,758.98 L245.88,759.41 L246.43,759.83 L246.98,760.25 L247.53,760.67 L248.09,761.08 L248.66,761.50 L249.22,761.91 L249.79,762.31 L250.36,762.72 L250.94,763.12 L251.52,763.52 L252.10,763.92 L252.69,764.32 L253.28,764.71 L253.87,765.10 L254.47,765.49 L255.07,765.88 L255.68,766.26 L256.29,766.65 L256.90,767.02 L257.51,767.40 L258.13,767.78 L258.76,768.15 L259.38,768.52 L260.01,768.88 L260.65,769.25 L261.29,769.61 L261.93,769.97 L262.58,770.33 L263.23,770.68 L263.88,771.04 L264.54,771.39 L265.20,771.74 L265.87,772.08 L266.54,772.42 L267.21,772.76 L267.89,773.10 L268.57,773.44 L269.25,773.77 L269.94,774.10 L270.64,774.43 L271.34,774.76 L272.04,775.08 L272.74,775.40 L273.45,775.72 L274.17,776.04 L274.89,776.35 L275.61,776.66 L276.34,776.97 L277.07,777.28 L277.80,777.58 L278.54,777.89 L279.29,778.18 L280.04,778.48 L280.79,778.78 L281.54,779.07 L282.31,779.36 L283.07,779.65 L283.84,779.93 L284.61,780.21 L285.39,780.49 L286.18,780.77 L286.96,781.05 L287.76,781.32 L288.55,781.59 L289.35,781.86 L290.16,782.12 L290.97,782.38 L291.78,782.64 L292.60,782.90 L293.42,783.16 L294.25,783.41 L295.09,783.66 L295.92,783.91 L296.76,784.16 L297.61,784.40 L298.46,784.64 L299.32,784.88 L300.18,785.12 L301.04,785.35 L301.91,785.58 L302.79,785.81 L303.67,786.04 L304.55,786.26 L305.44,786.48 L306.33,786.70 L307.23,786.92 L308.14,787.13 L309.04,787.34 L309.96,787.55 L310.88,787.76 L311.80,787.96 L312.73,788.17 L313.66,788.36 L314.60,788.56 L315.54,788.76 L316.49,788.95 L317.44,789.14 L318.39,789.33 L319.36,789.51 L320.32,789.69 L321.30,789.87 L322.27,790.05 L323.26,790.23 L324.24,790.40 L325.23,790.57 L326.23,790.74 L327.23,790.90 L328.24,791.07 L329.25,791.23 L330.27,791.38 L331.29,791.54 L332.32,791.69 L333.36,791.84 L334.39,791.99 L335.44,792.14 L336.49,792.28 L337.54,792.42 L338.60,792.56 L339.66,792.70 L340.73,792.83 L341.81,792.96 L342.89,793.09 L343.97,793.22 L345.06,793.34 L346.16,793.46 L347.26,793.58 L348.36,793.70 L349.47,793.81 L350.59,793.92 L351.71,794.03 L352.84,794.14 L353.97,794.24 L355.11,794.35 L356.25,794.45 L357.40,794.54 L358.55,794.64 L359.71,794.73 L360.87,794.82 L362.04,794.91 L363.22,794.99 L364.40,795.07 L365.58,795.15 L366.77,795.23 L367.97,795.31 L369.17,795.38 L370.38,795.45 L371.59,795.52 L372.81,795.58 L374.03,795.65 L375.26,795.71 L376.49,795.76 L377.73,795.82 L378.97,795.87 L380.22,795.92 L381.48,795.97 L382.74,796.02 L384.00,796.06 L385.27,796.10 L386.55,796.14 L387.83,796.18 L389.12,796.21 L390.41,796.24 L391.71,796.27 L393.01,796.30 L394.32,796.32 L395.63,796.34 L396.95,796.36 L398.27,796.38 L399.60,796.39 L400.94,796.40 L402.28,796.41 L403.62,796.42 L404.97,796.42 L406.33,796.42 L407.69,796.42 L409.05,796.42 L410.43,796.41 L411.80,796.41 L413.18,796.40 L414.57,796.38 L415.96,796.37 L417.36,796.35 L418.76,796.33 L420.17,796.31 L421.59,796.28 L423.00,796.25 L424.43,796.22 L425.86,796.19 L427.29,796.16 L428.73,796.12 L430.17,796.08 L431.62,796.04 L433.08,795.99 L434.54,795.95 L436.00,795.90 L437.47,795.85 L438.94,795.79 L440.42,795.73 L441.91,795.68 L443.40,795.61 L444.89,795.55 L446.39,795.48 L447.90,795.41 L449.40,795.34 L450.92,795.27 L452.44,795.19 L453.96,795.11 L455.49,795.03 L457.02,794.95 L458.56,794.86 L460.11,794.77 L461.65,794.68 L463.21,794.59 L464.76,794.49 L466.32,794.40 L467.89,794.30 L469.46,794.19 L471.04,794.09 L472.62,793.98 L474.20,793.87 L475.79,793.76 L477.39,793.64 L478.99,793.52 L480.59,793.40 L482.20,793.28 L483.81,793.15 L485.43,793.03 L487.05,792.90 L488.67,792.76 L490.30,792.63 L491.93,792.49 L493.57,792.35 L495.21,792.21 L496.86,792.07 L498.51,791.92 L500.17,791.77 L501.83,791.62 L503.49,791.46 L505.16,791.31 L506.83,791.15 L508.50,790.98 L510.18,790.82 L511.86,790.65 L513.55,790.48 L515.24,790.31 L516.94,790.14 L518.63,789.96 L520.34,789.78 L522.04,789.60 L523.75,789.42 L525.46,789.23 L527.18,789.04 L528.90,788.85 L530.63,788.66 L532.35,788.46 L534.08,788.27 L535.82,788.06 L537.56,787.86 L539.30,787.66 L541.04,787.45 L542.79,787.24 L544.54,787.02 L546.29,786.81 L548.05,786.59 L549.81,786.37 L551.58,786.15 L553.34,785.92 L555.11,785.70 L556.88,785.47 L558.66,785.23 L560.44,785.00 L562.22,784.76 L564.00,784.52 L565.79,784.28 L567.58,784.03 L569.37,783.79 L571.17,783.54 L572.97,783.29 L574.77,783.03 L576.57,782.77 L578.37,782.51 L580.18,782.25 L581.99,781.99 L583.80,781.72 L585.62,781.45 L587.43,781.18 L589.25,780.91 L591.07,780.63 L592.90,780.35 L594.72,780.07 L596.55,779.79 L598.38,779.50 L600.21,779.21 L602.04,778.92 L603.88,778.63 L605.72,778.33 L607.55,778.04 L609.39,777.73 L611.24,777.43 L613.08,777.13 L614.92,776.82 L616.77,776.51 L618.62,776.20 L620.47,775.88 L622.32,775.56 L624.17,775.24 L626.02,774.92 L627.88,774.59 L629.74,774.27 L631.59,773.94 L633.45,773.61 L635.31,773.27 L637.17,772.93 L639.03,772.59 L640.89,772.25 L642.75,771.91 L644.62,771.56 L646.48,771.21 L648.35,770.86 L650.21,770.51 L652.08,770.15 L653.94,769.79 L655.81,769.43 L657.68,769.07 L659.55,768.70 L661.41,768.33 L663.28,767.96 L665.15,767.59 L667.02,767.21 L668.89,766.83 L670.76,766.45 L672.63,766.07 L674.50,765.69 L676.37,765.30 L678.24,764.91 L680.11,764.52 L681.97,764.12 L683.84,763.72 L685.71,763.32 L687.58,762.92 L689.45,762.52 L691.31,762.11 L693.18,761.70 L695.05,761.29 L696.91,760.88 L698.78,760.46 L700.64,760.04 L702.51,759.62 L704.37,759.20 L706.23,758.77 L708.09,758.34 L709.95,757.91 L711.81,757.48 L713.67,757.04 L715.53,756.60 L717.38,756.16 L719.24,755.72 L721.09,755.27 L722.94,754.83 L724.79,754.38 L726.64,753.93 L728.49,753.47 L730.34,753.01 L732.18,752.55 L734.03,752.09 L735.87,751.63 L737.71,751.16 L739.55,750.69 L741.39,750.22 L743.23,749.75 L745.06,749.27 L746.89,748.79 L748.72,748.31 L750.55,747.83 L752.38,747.35 L754.20,746.86 L756.02,746.37 L757.84,745.87 L759.66,745.38 L761.48,744.88 L763.29,744.38 L765.10,743.88 L766.91,743.38 L768.72,742.87 L770.53,742.36 L772.33,741.85 L774.13,741.34 L775.92,740.82 L777.72,740.30 L779.51,739.78 L781.30,739.26 L783.09,738.74 L784.87,738.21 L786.65,737.68 L788.43,737.15 L790.21,736.61 L791.98,736.08 L793.75,735.54 L795.52,735.00 L797.28,734.45 L799.04,733.91 L800.80,733.36 L802.56,732.81 L804.31,732.26 L806.06,731.70 L807.81,731.14 L809.55,730.59 L811.29,730.02 L813.02,729.46 L814.76,728.89 L816.49,728.32 L818.21,727.75 L819.94,727.18 L821.66,726.61 L823.37,726.03 L825.08,725.45 L826.79,724.87 L828.50,724.28 L830.20,723.69 L831.90,723.11 L833.59,722.51 L835.28,721.92 L836.97,721.33 L838.66,720.73 L840.34,720.13 L842.01,719.53 L843.68,718.92 L845.35,718.31 L847.02,717.71 L848.68,717.10 L850.33,716.48 L851.99,715.87 L853.64,715.25 L855.28,714.63 L856.92,714.01 L858.56,713.38 L860.19,712.76 L861.82,712.13 L863.44,711.50 L865.06,710.86 L866.68,710.23 L868.29,709.59 L869.90,708.95 L871.50,708.31 L873.10,707.67 L874.70,707.02 L876.29,706.37 L877.88,705.72 L879.46,705.07 L881.04,704.42 L882.61,703.76 L884.18,703.10 L885.74,702.44 L887.30,701.78 L888.86,701.11 L890.41,700.45 L891.96,699.78 L893.50,699.11 L895.04,698.43 L896.57,697.76 L898.10,697.08 L899.62,696.40 L901.14,695.72 L902.66,695.03 L904.17,694.35 L905.67,693.66 L907.18,692.97 L908.67,692.28 L910.16,691.58 L911.65,690.89 L913.13,690.19 L914.61,689.49 L916.09,688.79 L917.55,688.08 L919.02,687.38 L920.48,686.67 L921.93,685.96 L923.38,685.25 L924.83,684.53 L926.27,683.82 L927.70,683.10 L929.13,682.38 L930.56,681.66 L931.98,680.94 L933.39,680.21 L934.80,679.48 L936.21,678.75 L937.61,678.02 L939.01,677.29 L940.40,676.55 L941.79,675.81 L943.17,675.08 L944.55,674.33 L945.92,673.59 L947.29,672.85 L948.65,672.10 L950.01,671.35 L951.36,670.60 L952.71,669.85 L954.05,669.09 L955.39,668.34 L956.72,667.58 L958.05,666.82 L959.37,666.06 L960.69,665.29 L962.00,664.53 L963.31,663.76 L964.61,662.99 L965.91,662.22 L967.21,661.45 L968.50,660.68 L969.78,659.90 L971.06,659.12 L972.33,658.34 L973.60,657.56 L974.86,656.78 L976.12,655.99 L977.38,655.21 L978.63,654.42 L979.87,653.63 L981.11,652.84 L982.34,652.04 L983.57,651.25 L984.80,650.45 L986.02,649.65 L987.23,648.85 L988.44,648.05 L989.65,647.25 L990.85,646.45 L992.04,645.64 L993.23,644.83 L994.42,644.02 L995.60,643.21 L996.77,642.40 L997.94,641.58 L999.11,640.77 L1000.27,639.95 L1001.42,639.13 L1002.57,638.31 L1003.72,637.49 L1004.86,636.66 L1006.00,635.84 L1007.13,635.01 L1008.25,634.18 L1009.38,633.35 L1010.49,632.52 L1011.60,631.69 L1012.71,630.85 L1013.81,630.01 L1014.91,629.18 L1016.00,628.34 L1017.09,627.50 L1018.17,626.66 L1019.25,625.81 L1020.33,624.97 L1021.40,624.12 L1022.46,623.27 L1023.52,622.43 L1024.57,621.58 L1025.62,620.72 L1026.67,619.87 L1027.71,619.02 L1028.74,618.16 L1029.77,617.30 L1030.80,616.45 L1031.82,615.59 L1032.84,614.73 L1033.85,613.86 L1034.86,613.00 L1035.86,612.14 L1036.86,611.27 L1037.85,610.40 L1038.84,609.53 L1039.82,608.66 L1040.80,607.79 L1041.78,606.92 L1042.75,606.05 L1043.72,605.17 L1044.68,604.30 L1045.63,603.42 L1046.59,602.54 L1047.53,601.66 L1048.48,600.78 L1049.42,599.90 L1050.35,599.02 L1051.28,598.13 L1052.20,597.25 L1053.12,596.36 L1054.04,595.48 L1054.95,594.59 L1055.86,593.70 L1056.76,592.81 L1057.66,591.92 L1058.56,591.02 L1059.44,590.13 L1060.33,589.24 L1061.21,588.34 L1062.09,587.45 L1062.96,586.55 L1063.83,585.65 L1064.69,584.75 L1065.55,583.85 L1066.41,582.95 L1067.26,582.05 L1068.10,581.14 L1068.94,580.24 L1069.78,579.34 L1070.62,578.43 L1071.45,577.52 L1072.27,576.62 L1073.09,575.71 L1073.91,574.80 L1074.72,573.89 L1075.53,572.98 L1076.33,572.07 L1077.13,571.16 L1077.93,570.24 L1078.72,569.33 L1079.51,568.42 L1080.29,567.50 L1081.07,566.58 L1081.85,565.67 L1082.62,564.75 L1083.39,563.83 L1084.15,562.91 L1084.91,562.00 L1085.67,561.08 L1086.42,560.15 L1087.16,559.23 L1087.91,558.31 L1088.65,557.39 L1089.38,556.47 L1090.11,555.54 L1090.84,554.62 L1091.57,553.69 L1092.29,552.77 L1093.00,551.84 L1093.71,550.92 L1094.42,549.99 L1095.13,549.06 L1095.83,548.13 L1096.53,547.21 L1097.22,546.28 L1097.91,545.35 L1098.59,544.42 L1099.28,543.49 L1099.95,542.56 L1100.63,541.63 L1101.30,540.70 L1101.97,539.76 L1102.63,538.83 L1103.29,537.90 L1103.94,536.97 L1104.60,536.03 L1105.24,535.10 L1105.89,534.17 L1106.53,533.23 L1107.17,532.30 L1107.80,531.36 L1108.43,530.43 L1109.06,529.49 L1109.68,528.56 L1110.30,527.62 L1110.92,526.69 L1111.53,525.75 L1112.14,524.82 L1112.75,523.88 L1113.35,522.94 L1113.95,522.01 L1114.54,521.07 L1115.14,520.13 L1115.73,519.20 L1116.31,518.26 L1116.89,517.32 L1117.47,516.38 L1118.05,515.45 L1118.62,514.51 L1119.19,513.57 L1119.75,512.63 L1120.31,511.70 L1120.87,510.76 L1121.43,509.82 L1121.98,508.89 L1122.53,507.95 L1123.07,507.01 L1123.61,506.07 L1124.15,505.14 L1124.69,504.20 L1125.22,503.26 L1125.75,502.33 L1126.27,501.39 L1126.80,500.45 L1127.32,499.52 L1127.83,498.58 L1128.34,497.64 L1128.85,496.71 L1129.36,495.77 L1129.87,494.84 L1130.37,493.90 L1130.86,492.97 L1131.36,492.03 L1131.85,491.10 L1132.34,490.16 L1132.82,489.23 L1133.31,488.30 L1133.78,487.36 L1134.26,486.43 L1134.73,485.50 L1135.20,484.56 L1135.67,483.63 L1136.14,482.70 L1136.60,481.77 L1137.05,480.84 L1137.51,479.91 L1137.96,478.98 L1138.41,478.05 L1138.86,477.12 L1139.30,476.19 L1139.74,475.26 L1140.18,474.33 L1140.62,473.41 L1141.05,472.48 L1141.48,471.55 L1141.91,470.63 L1142.33,469.70 L1142.75,468.78 L1143.17,467.85 L1143.58,466.93 L1144.00,466.00 L1144.41,465.08 L1144.81,464.16 L1145.22,463.24 L1145.62,462.32 L1146.02,461.40 L1146.41,460.48 L1146.81,459.56 L1147.20,458.64 L1147.59,457.72 L1147.97,456.81 L1148.36,455.89 L1148.74,454.98 L1149.11,454.06 L1149.49,453.15 L1149.86,452.23 L1150.23,451.32 L1150.60,450.41 L1150.96,449.50 L1151.32,448.59 L1151.68,447.68 L1152.04,446.77 L1152.39,445.86 L1152.74,444.96 L1153.09,444.05 L1153.44,443.15 L1153.78,442.24 L1154.12,441.34 L1154.46,440.43 L1154.80,439.53 L1155.13,438.63 L1155.46,437.73 L1155.79,436.83 L1156.12,435.94 L1156.44,435.04 L1156.77,434.14 L1157.08,433.25 L1157.40,432.35 L1157.71,431.46 L1158.03,430.57 L1158.34,429.68 L1158.64,428.79 L1158.95,427.90 L1159.25,427.01 L1159.55,426.12 L1159.85,425.23 L1160.14,424.35 L1160.43,423.47 L1160.73,422.58 L1161.01,421.70 L1161.30,420.82 L1161.58,419.94 L1161.86,419.06 L1162.14,418.19 L1162.42,417.31 L1162.69,416.43 L1162.96,415.56 L1163.23,414.69 L1163.50,413.82 L1163.77,412.95 L1164.03,412.08 L1164.29,411.21 L1164.55,410.34 L1164.80,409.48 L1165.06,408.61 L1165.31,407.75 L1165.56,406.89 L1165.81,406.03 L1166.05,405.17 L1166.29,404.31 L1166.53,403.45 L1166.77,402.60 L1167.01,401.74 L1167.24,400.89 L1167.48,400.04 L1167.70,399.19 L1167.93,398.34 L1168.16,397.49 L1168.38,396.64 L1168.60,395.80 L1168.82,394.95 L1169.04,394.11 L1169.25,393.27 L1169.47,392.43 L1169.68,391.59 L1169.89,390.76 L1170.09,389.92 L1170.30,389.09 L1170.50,388.25 L1170.70,387.42 L1170.90,386.59 L1171.09,385.76 L1171.29,384.94 L1171.48,384.11 L1171.67,383.29 L1171.86,382.47 L1172.04,381.65 L1172.23,380.83 L1172.41,380.01 L1172.59,379.19 L1172.76,378.38 L1172.94,377.56 L1173.11,376.75 L1173.29,375.94 L1173.46,375.13 L1173.62,374.32 L1173.79,373.52 L1173.95,372.71 L1174.11,371.91 L1174.27,371.11 L1174.43,370.31 L1174.59,369.51 L1174.74,368.71 L1174.89,367.92 L1175.04,367.13 L1175.19,366.33 L1175.34,365.54 L1175.48,364.75 L1175.62,363.97 L1175.76,363.18 L1175.90,362.40 L1176.04,361.62 L1176.17,360.83 L1176.31,360.06 L1176.44,359.28 L1176.56,358.50 L1176.69,357.73 L1176.82,356.96 L1176.94,356.19 L1177.06,355.42 L1177.18,354.65 L1177.30,353.88 L1177.41,353.12 L1177.53,352.36 L1177.64,351.60 L1177.75,350.84 L1177.85,350.08 L1177.96,349.32 L1178.07,348.57 L1178.17,347.82 L1178.27,347.07 L1178.37,346.32 L1178.46,345.57 L1178.56,344.82 L1178.65,344.08 L1178.74,343.34 L1178.83,342.60 L1178.92,341.86 L1179.00,341.12 L1179.09,340.39 L1179.17,339.65 L1179.25,338.92 L1179.33,338.19 L1179.40,337.46 L1179.48,336.74 L1179.55,336.01 L1179.62,335.29 L1179.69,334.57 L1179.76,333.85 L1179.83,333.13 L1179.89,332.42 L1179.95,331.70 L1180.01,330.99 L1180.07,330.28 L1180.13,329.57 L1180.18,328.87 L1180.23,328.16 L1180.28,327.46 L1180.33,326.76 L1180.38,326.06 L1180.43,325.36 L1180.47,324.66 L1180.51,323.97 L1180.55,323.27 L1180.59,322.58 L1180.63,321.90 L1180.66,321.21 L1180.70,320.52 L1180.73,319.84 L1180.76,319.16 L1180.78,318.48 L1180.81,317.80 L1180.83,317.12 L1180.86,316.45 L1180.88,315.78 L1180.90,315.11 L1180.91,314.44 L1180.93,313.77 L1180.94,313.11 L1180.95,312.44 L1180.96,311.78 L1180.97,311.12 L1180.98,310.46 L1180.98,309.81 L1180.98,309.15 L1180.98,308.50 Z" fill="none" stroke="#666" stroke-width="4.2" stroke-dasharray="2.4 9.536" stroke-dashoffset="6.99"/>
<path transform="scale(1.2,1)" d="M511.26,307.31 L511.26,307.21 L511.26,307.11 L511.26,307.02 L511.26,306.92 L511.25,306.82 L511.25,306.72 L511.25,306.62 L511.24,306.52 L511.24,306.43 L511.24,306.33 L511.23,306.23 L511.22,306.13 L511.22,306.04 L511.21,305.94 L511.20,305.84 L511.20,305.74 L511.19,305.65 L511.18,305.55 L511.17,305.45 L511.16,305.35 L511.15,305.26 L511.14,305.16 L511.13,305.06 L511.11,304.96 L511.10,304.87 L511.09,304.77 L511.08,304.67 L511.06,304.58 L511.05,304.48 L511.03,304.38 L511.02,304.29 L511.00,304.19 L510.98,304.09 L510.97,304.00 L510.95,303.90 L510.93,303.80 L510.91,303.71 L510.89,303.61 L510.87,303.51 L510.85,303.42 L510.83,303.32 L510.81,303.23 L510.79,303.13 L510.77,303.03 L510.75,302.94 L510.72,302.84 L510.70,302.75 L510.68,302.65 L510.65,302.56 L510.63,302.46 L510.60,302.36 L510.57,302.27 L510.55,302.17 L510.52,302.08 L510.49,301.98 L510.46,301.89 L510.44,301.79 L510.41,301.70 L510.38,301.60 L510.35,301.51 L510.32,301.41 L510.28,301.32 L510.25,301.23 L510.22,301.13 L510.19,301.04 L510.16,300.94 L510.12,300.85 L510.09,300.75 L510.05,300.66 L510.02,300.56 L509.98,300.47 L509.95,300.38 L509.91,300.28 L509.87,300.19 L509.83,300.10 L509.80,300.00 L509.76,299.91 L509.72,299.81 L509.68,299.72 L509.64,299.63 L509.60,299.53 L509.56,299.44 L509.51,299.35 L509.47,299.26 L509.43,299.16 L509.39,299.07 L509.34,298.98 L509.30,298.88 L509.25,298.79 L509.21,298.70 L509.16,298.61 L509.12,298.51 L509.07,298.42 L509.02,298.33 L508.98,298.24 L508.93,298.15 L508.88,298.05 L508.83,297.96 L508.78,297.87 L508.73,297.78 L508.68,297.69 L508.63,297.60 L508.58,297.50 L508.53,297.41 L508.47,297.32 L508.42,297.23 L508.37,297.14 L508.31,297.05 L508.26,296.96 L508.20,296.87 L508.15,296.78 L508.09,296.68 L508.04,296.59 L507.98,296.50 L507.92,296.41 L507.86,296.32 L507.80,296.23 L507.75,296.14 L507.69,296.05 L507.63,295.96 L507.57,295.87 L507.51,295.78 L507.44,295.69 L507.38,295.60 L507.32,295.51 L507.26,295.43 L507.19,295.34 L507.13,295.25 L507.07,295.16 L507.00,295.07 L506.94,294.98 L506.87,294.89 L506.80,294.80 L506.74,294.71 L506.67,294.63 L506.60,294.54 L506.54,294.45 L506.47,294.36 L506.40,294.27 L506.33,294.18 L506.26,294.10 L506.19,294.01 L506.12,293.92 L506.05,293.83 L505.97,293.75 L505.90,293.66 L505.83,293.57 L505.76,293.48 L505.68,293.40 L505.61,293.31 L505.53,293.22 L505.46,293.14 L505.38,293.05 L505.31,292.96 L505.23,292.88 L505.15,292.79 L505.08,292.70 L505.00,292.62 L504.92,292.53 L504.84,292.44 L504.76,292.36 L504.68,292.27 L504.60,292.19 L504.52,292.10 L504.44,292.02 L504.36,291.93 L504.28,291.85 L504.19,291.76 L504.11,291.67 L504.03,291.59 L503.94,291.51 L503.86,291.42 L503.77,291.34 L503.69,291.25 L503.60,291.17 L503.52,291.08 L503.43,291.00 L503.34,290.91 L503.25,290.83 L503.17,290.75 L503.08,290.66 L502.99,290.58 L502.90,290.50 L502.81,290.41 L502.72,290.33 L502.63,290.24 L502.54,290.16 L502.45,290.08 L502.35,290.00 L502.26,289.91 L502.17,289.83 L502.07,289.75 L501.98,289.67 L501.89,289.58 L501.79,289.50 L501.70,289.42 L501.60,289.34 L501.50,289.25 L501.41,289.17 L501.31,289.09 L501.21,289.01 L501.12,288.93 L501.02,288.85 L500.92,288.77 L500.82,288.68 L500.72,288.60 L500.62,288.52 L500.52,288.44 L500.42,288.36 L500.32,288.28 L500.21,288.20 L500.11,288.12 L500.01,288.04 L499.91,287.96 L499.80,287.88 L499.70,287.80 L499.59,287.72 L499.49,287.64 L499.38,287.56 L499.28,287.48 L499.17,287.40 L499.07,287.32 L498.96,287.25 L498.85,287.17 L498.74,287.09 L498.63,287.01 L498.53,286.93 L498.42,286.85 L498.31,286.77 L498.20,286.70 L498.09,286.62 L497.98,286.54 L497.86,286.46 L497.75,286.38 L497.64,286.31 L497.53,286.23 L497.42,286.15 L497.30,286.08 L497.19,286.00 L497.07,285.92 L496.96,285.84 L496.84,285.77 L496.73,285.69 L496.61,285.62 L496.50,285.54 L496.38,285.46 L496.26,285.39 L496.15,285.31 L496.03,285.24 L495.91,285.16 L495.79,285.08 L495.67,285.01 L495.55,284.93 L495.43,284.86 L495.31,284.78 L495.19,284.71 L495.07,284.63 L494.95,284.56 L494.83,284.48 L494.70,284.41 L494.58,284.34 L494.46,284.26 L494.34,284.19 L494.21,284.11 L494.09,284.04 L493.96,283.97 L493.84,283.89 L493.71,283.82 L493.59,283.75 L493.46,283.67 L493.33,283.60 L493.21,283.53 L493.08,283.45 L492.95,283.38 L492.82,283.31 L492.69,283.24 L492.57,283.17 L492.44,283.09 L492.31,283.02 L492.18,282.95 L492.05,282.88 L491.92,282.81 L491.78,282.74 L491.65,282.66 L491.52,282.59 L491.39,282.52 L491.26,282.45 L491.12,282.38 L490.99,282.31 L490.85,282.24 L490.72,282.17 L490.59,282.10 L490.45,282.03 L490.32,281.96 L490.18,281.89 L490.04,281.82 L489.91,281.75 L489.77,281.68 L489.63,281.61 L489.50,281.54 L489.36,281.47 L489.22,281.40 L489.08,281.34 L488.94,281.27 L488.80,281.20 L488.66,281.13 L488.52,281.06 L488.38,280.99 L488.24,280.93 L488.10,280.86 L487.96,280.79 L487.82,280.72 L487.67,280.66 L487.53,280.59 L487.39,280.52 L487.25,280.46 L487.10,280.39 L486.96,280.32 L486.81,280.26 L486.67,280.19 L486.52,280.12 L486.38,280.06 L486.23,279.99 L486.09,279.93 L485.94,279.86 L485.79,279.79 L485.65,279.73 L485.50,279.66 L485.35,279.60 L485.20,279.53 L485.06,279.47 L484.91,279.40 L484.76,279.34 L484.61,279.28 L484.46,279.21 L484.31,279.15 L484.16,279.08 L484.01,279.02 L483.86,278.96 L483.71,278.89 L483.55,278.83 L483.40,278.77 L483.25,278.70 L483.10,278.64 L482.94,278.58 L482.79,278.51 L482.64,278.45 L482.48,278.39 L482.33,278.33 L482.17,278.26 L482.02,278.20 L481.86,278.14 L481.71,278.08 L481.55,278.02 L481.40,277.96 L481.24,277.90 L481.08,277.83 L480.93,277.77 L480.77,277.71 L480.61,277.65 L480.45,277.59 L480.30,277.53 L480.14,277.47 L479.98,277.41 L479.82,277.35 L479.66,277.29 L479.50,277.23 L479.34,277.17 L479.18,277.11 L479.02,277.05 L478.86,276.99 L478.70,276.94 L478.53,276.88 L478.37,276.82 L478.21,276.76 L478.05,276.70 L477.88,276.64 L477.72,276.58 L477.56,276.53 L477.40,276.47 L477.23,276.41 L477.07,276.35 L476.90,276.30 L476.74,276.24 L476.57,276.18 L476.41,276.13 L476.24,276.07 L476.08,276.01 L475.91,275.96 L475.74,275.90 L475.58,275.84 L475.41,275.79 L475.24,275.73 L475.08,275.68 L474.91,275.62 L474.74,275.57 L474.57,275.51 L474.40,275.46 L474.23,275.40 L474.06,275.35 L473.90,275.29 L473.73,275.24 L473.56,275.18 L473.39,275.13 L473.22,275.07 L473.04,275.02 L472.87,274.97 L472.70,274.91 L472.53,274.86 L472.36,274.81 L472.19,274.75 L472.02,274.70 L471.84,274.65 L471.67,274.60 L471.50,274.54 L471.32,274.49 L471.15,274.44 L470.98,274.39 L470.80,274.34 L470.63,274.28 L470.45,274.23 L470.28,274.18 L470.11,274.13 L469.93,274.08 L469.75,274.03 L469.58,273.98 L469.40,273.93 L469.23,273.88 L469.05,273.82 L468.87,273.77 L468.70,273.72 L468.52,273.67 L468.34,273.63 L468.17,273.58 L467.99,273.53 L467.81,273.48 L467.63,273.43 L467.45,273.38 L467.28,273.33 L467.10,273.28 L466.92,273.23 L466.74,273.18 L466.56,273.14 L466.38,273.09 L466.20,273.04 L466.02,272.99 L465.84,272.95 L465.66,272.90 L465.48,272.85 L465.30,272.80 L465.12,272.76 L464.93,272.71 L464.75,272.66 L464.57,272.62 L464.39,272.57 L464.21,272.52 L464.02,272.48 L463.84,272.43 L463.66,272.39 L463.48,272.34 L463.29,272.30 L463.11,272.25 L462.93,272.21 L462.74,272.16 L462.56,272.12 L462.37,272.07 L462.19,272.03 L462.01,271.98 L461.82,271.94 L461.64,271.89 L461.45,271.85 L461.27,271.81 L461.08,271.76 L460.89,271.72 L460.71,271.68 L460.52,271.63 L460.34,271.59 L460.15,271.55 L459.96,271.51 L459.78,271.46 L459.59,271.42 L459.40,271.38 L459.22,271.34 L459.03,271.30 L458.84,271.25 L458.65,271.21 L458.46,271.17 L458.28,271.13 L458.09,271.09 L457.90,271.05 L457.71,271.01 L457.52,270.97 L457.33,270.93 L457.15,270.89 L456.96,270.85 L456.77,270.81 L456.58,270.77 L456.39,270.73 L456.20,270.69 L456.01,270.65 L455.82,270.61 L455.63,270.57 L455.44,270.53 L455.25,270.49 L455.06,270.46 L454.86,270.42 L454.67,270.38 L454.48,270.34 L454.29,270.30 L454.10,270.27 L453.91,270.23 L453.72,270.19 L453.52,270.15 L453.33,270.12 L453.14,270.08 L452.95,270.04 L452.76,270.01 L452.56,269.97 L452.37,269.94 L452.18,269.90 L451.98,269.86 L451.79,269.83 L451.60,269.79 L451.40,269.76 L451.21,269.72 L451.02,269.69 L450.82,269.65 L450.63,269.62 L450.44,269.58 L450.24,269.55 L450.05,269.51 L449.85,269.48 L449.66,269.45 L449.46,269.41 L449.27,269.38 L449.08,269.35 L448.88,269.31 L448.69,269.28 L448.49,269.25 L448.30,269.21 L448.10,269.18 L447.90,269.15 L447.71,269.12 L447.51,269.08 L447.32,269.05 L447.12,269.02 L446.93,268.99 L446.73,268.96 L446.53,268.93 L446.34,268.89 L446.14,268.86 L445.94,268.83 L445.75,268.80 L445.55,268.77 L445.36,268.74 L445.16,268.71 L444.96,268.68 L444.76,268.65 L444.57,268.62 L444.37,268.59 L444.17,268.56 L443.98,268.53 L443.78,268.50 L443.58,268.48 L443.38,268.45 L443.19,268.42 L442.99,268.39 L442.79,268.36 L442.59,268.33 L442.39,268.31 L442.20,268.28 L442.00,268.25 L441.80,268.22 L441.60,268.20 L441.40,268.17 L441.21,268.14 L441.01,268.11 L440.81,268.09 L440.61,268.06 L440.41,268.04 L440.21,268.01 L440.01,267.98 L439.82,267.96 L439.62,267.93 L439.42,267.91 L439.22,267.88 L439.02,267.86 L438.82,267.83 L438.62,267.81 L438.42,267.78 L438.22,267.76 L438.02,267.73 L437.83,267.71 L437.63,267.69 L437.43,267.66 L437.23,267.64 L437.03,267.61 L436.83,267.59 L436.63,267.57 L436.43,267.55 L436.23,267.52 L436.03,267.50 L435.83,267.48 L435.63,267.45 L435.43,267.43 L435.23,267.41 L435.03,267.39 L434.83,267.37 L434.63,267.35 L434.43,267.32 L434.23,267.30 L434.03,267.28 L433.83,267.26 L433.63,267.24 L433.43,267.22 L433.23,267.20 L433.03,267.18 L432.83,267.16 L432.63,267.14 L432.43,267.12 L432.23,267.10 L432.03,267.08 L431.83,267.06 L431.63,267.04 L431.43,267.02 L431.23,267.01 L431.03,266.99 L430.83,266.97 L430.63,266.95 L430.43,266.93 L430.23,266.92 L430.03,266.90 L429.83,266.88 L429.62,266.86 L429.42,266.85 L429.22,266.83 L429.02,266.81 L428.82,266.79 L428.62,266.78 L428.42,266.76 L428.22,266.75 L428.02,266.73 L427.82,266.71 L427.62,266.70 L427.42,266.68 L427.22,266.67 L427.02,266.65 L426.82,266.64 L426.62,266.62 L426.42,266.61 L426.22,266.59 L426.02,266.58 L425.82,266.56 L425.62,266.55 L425.42,266.54 L425.22,266.52 L425.02,266.51 L424.82,266.50 L424.62,266.48 L424.42,266.47 L424.22,266.46 L424.02,266.44 L423.82,266.43 L423.62,266.42 L423.42,266.41 L423.22,266.39 L423.02,266.38 L422.82,266.37 L422.62,266.36 L422.42,266.35 L422.22,266.34 L422.02,266.33 L421.82,266.32 L421.62,266.30 L421.42,266.29 L421.22,266.28 L421.02,266.27 L420.82,266.26 L420.62,266.25 L420.42,266.24 L420.22,266.23 L420.02,266.22 L419.82,266.22 L419.62,266.21 L419.42,266.20 L419.22,266.19 L419.03,266.18 L418.83,266.17 L418.63,266.16 L418.43,266.16 L418.23,266.15 L418.03,266.14 L417.83,266.13 L417.63,266.13 L417.43,266.12 L417.24,266.11 L417.04,266.10 L416.84,266.10 L416.64,266.09 L416.44,266.08 L416.24,266.08 L416.04,266.07 L415.85,266.07 L415.65,266.06 L415.45,266.06 L415.25,266.05 L415.05,266.04 L414.86,266.04 L414.66,266.03 L414.46,266.03 L414.26,266.03 L414.06,266.02 L413.87,266.02 L413.67,266.01 L413.47,266.01 L413.28,266.01 L413.08,266.00 L412.88,266.00 L412.68,266.00 L412.49,265.99 L412.29,265.99 L412.09,265.99 L411.90,265.98 L411.70,265.98 L411.50,265.98 L411.31,265.98 L411.11,265.98 L410.91,265.97 L410.72,265.97 L410.52,265.97 L410.33,265.97 L410.13,265.97 L409.93,265.97 L409.74,265.97 L409.54,265.97 L409.35,265.97 L409.15,265.97 L408.96,265.97 L408.76,265.97 L408.56,265.97 L408.37,265.97 L408.17,265.97 L407.98,265.97 L407.78,265.97 L407.59,265.97 L407.40,265.97 L407.20,265.97 L407.01,265.98 L406.81,265.98 L406.62,265.98 L406.42,265.98 L406.23,265.98 L406.04,265.99 L405.84,265.99 L405.65,265.99 L405.46,265.99 L405.26,266.00 L405.07,266.00 L404.88,266.00 L404.68,266.01 L404.49,266.01 L404.30,266.02 L404.10,266.02 L403.91,266.02 L403.72,266.03 L403.53,266.03 L403.33,266.04 L403.14,266.04 L402.95,266.05 L402.76,266.05 L402.57,266.06 L402.37,266.06 L402.18,266.07 L401.99,266.08 L401.80,266.08 L401.61,266.09 L401.42,266.10 L401.23,266.10 L401.04,266.11 L400.85,266.12 L400.66,266.12 L400.47,266.13 L400.28,266.14 L400.09,266.15 L399.90,266.15 L399.71,266.16 L399.52,266.17 L399.33,266.18 L399.14,266.19 L398.95,266.19 L398.76,266.20 L398.57,266.21 L398.38,266.22 L398.19,266.23 L398.00,266.24 L397.82,266.25 L397.63,266.26 L397.44,266.27 L397.25,266.28 L397.06,266.29 L396.88,266.30 L396.69,266.31 L396.50,266.32 L396.31,266.33 L396.13,266.34 L395.94,266.36 L395.75,266.37 L395.57,266.38 L395.38,266.39 L395.19,266.40 L395.01,266.41 L394.82,266.43 L394.64,266.44 L394.45,266.45 L394.26,266.46 L394.08,266.48 L393.89,266.49 L393.71,266.50 L393.52,266.52 L393.34,266.53 L393.16,266.55 L392.97,266.56 L392.79,266.57 L392.60,266.59 L392.42,266.60 L392.23,266.62 L392.05,266.63 L391.87,266.65 L391.68,266.66 L391.50,266.68 L391.32,266.69 L391.14,266.71 L390.95,266.72 L390.77,266.74 L390.59,266.76 L390.41,266.77 L390.23,266.79 L390.04,266.81 L389.86,266.82 L389.68,266.84 L389.50,266.86 L389.32,266.87 L389.14,266.89 L388.96,266.91 L388.78,266.93 L388.60,266.94 L388.42,266.96 L388.24,266.98 L388.06,267.00 L387.88,267.02 L387.70,267.04 L387.52,267.06 L387.34,267.07 L387.16,267.09 L386.98,267.11 L386.80,267.13 L386.63,267.15 L386.45,267.17 L386.27,267.19 L386.09,267.21 L385.91,267.23 L385.74,267.25 L385.56,267.27 L385.38,267.30 L385.21,267.32 L385.03,267.34 L384.85,267.36 L384.68,267.38 L384.50,267.40 L384.33,267.42 L384.15,267.45 L383.98,267.47 L383.80,267.49 L383.62,267.51 L383.45,267.54 L383.28,267.56 L383.10,267.58 L382.93,267.61 L382.75,267.63 L382.58,267.65 L382.41,267.68 L382.23,267.70 L382.06,267.72 L381.89,267.75 L381.71,267.77 L381.54,267.80 L381.37,267.82 L381.20,267.85 L381.02,267.87 L380.85,267.90 L380.68,267.92 L380.51,267.95 L380.34,267.97 L380.17,268.00 L380.00,268.03 L379.83,268.05 L379.66,268.08 L379.49,268.11 L379.32,268.13 L379.15,268.16 L378.98,268.19 L378.81,268.21 L378.64,268.24 L378.47,268.27 L378.30,268.30 L378.13,268.32 L377.97,268.35 L377.80,268.38 L377.63,268.41 L377.46,268.44 L377.29,268.46 L377.13,268.49 L376.96,268.52 L376.79,268.55 L376.63,268.58 L376.46,268.61 L376.30,268.64 L376.13,268.67 L375.96,268.70 L375.80,268.73 L375.63,268.76 L375.47,268.79 L375.30,268.82 L375.14,268.85 L374.98,268.88 L374.81,268.91 L374.65,268.95 L374.48,268.98 L374.32,269.01 L374.16,269.04 L374.00,269.07 L373.83,269.10 L373.67,269.14 L373.51,269.17 L373.35,269.20 L373.19,269.23 L373.02,269.27 L372.86,269.30 L372.70,269.33 L372.54,269.37 L372.38,269.40 L372.22,269.43 L372.06,269.47 L371.90,269.50 L371.74,269.54 L371.58,269.57 L371.42,269.60 L371.26,269.64 L371.10,269.67 L370.95,269.71 L370.79,269.74 L370.63,269.78 L370.47,269.81 L370.31,269.85 L370.16,269.89 L370.00,269.92 L369.84,269.96 L369.69,269.99 L369.53,270.03 L369.37,270.07 L369.22,270.10 L369.06,270.14 L368.91,270.18 L368.75,270.22 L368.60,270.25 L368.44,270.29 L368.29,270.33 L368.14,270.37 L367.98,270.40 L367.83,270.44 L367.67,270.48 L367.52,270.52 L367.37,270.56 L367.22,270.60 L367.06,270.64 L366.91,270.67 L366.76,270.71 L366.61,270.75 L366.46,270.79 L366.31,270.83 L366.15,270.87 L366.00,270.91 L365.85,270.95 L365.70,270.99 L365.55,271.03 L365.40,271.07 L365.25,271.12 L365.11,271.16 L364.96,271.20 L364.81,271.24 L364.66,271.28 L364.51,271.32 L364.36,271.36 L364.22,271.41 L364.07,271.45 L363.92,271.49 L363.77,271.53 L363.63,271.58 L363.48,271.62 L363.34,271.66 L363.19,271.70 L363.04,271.75 L362.90,271.79 L362.75,271.84 L362.61,271.88 L362.46,271.92 L362.32,271.97 L362.18,272.01 L362.03,272.06 L361.89,272.10 L361.75,272.14 L361.60,272.19 L361.46,272.23 L361.32,272.28 L361.17,272.32 L361.03,272.37 L360.89,272.42 L360.75,272.46 L360.61,272.51 L360.47,272.55 L360.33,272.60 L360.19,272.65 L360.05,272.69 L359.91,272.74 L359.77,272.79 L359.63,272.83 L359.49,272.88 L359.35,272.93 L359.21,272.98 L359.07,273.02 L358.94,273.07 L358.80,273.12 L358.66,273.17 L358.52,273.22 L358.39,273.26 L358.25,273.31 L358.11,273.36 L357.98,273.41 L357.84,273.46 L357.71,273.51 L357.57,273.56 L357.43,273.61 L357.30,273.66 L357.17,273.71 L357.03,273.76 L356.90,273.81 L356.76,273.86 L356.63,273.91 L356.50,273.96 L356.36,274.01 L356.23,274.06 L356.10,274.11 L355.97,274.16 L355.83,274.21 L355.70,274.26 L355.57,274.32 L355.44,274.37 L355.31,274.42 L355.18,274.47 L355.05,274.52 L354.92,274.58 L354.79,274.63 L354.66,274.68 L354.53,274.73 L354.40,274.79 L354.27,274.84 L354.15,274.89 L354.02,274.95 L353.89,275.00 L353.76,275.06 L353.64,275.11 L353.51,275.16 L353.38,275.22 L353.26,275.27 L353.13,275.33 L353.00,275.38 L352.88,275.44 L352.75,275.49 L352.63,275.55 L352.50,275.60 L352.38,275.66 L352.25,275.71 L352.13,275.77 L352.01,275.82 L351.88,275.88 L351.76,275.94 L351.64,275.99 L351.52,276.05 L351.39,276.11 L351.27,276.16 L351.15,276.22 L351.03,276.28 L350.91,276.33 L350.79,276.39 L350.67,276.45 L350.55,276.51 L350.43,276.56 L350.31,276.62 L350.19,276.68 L350.07,276.74 L349.95,276.80 L349.83,276.86 L349.71,276.91 L349.59,276.97 L349.48,277.03 L349.36,277.09 L349.24,277.15 L349.13,277.21 L349.01,277.27 L348.89,277.33 L348.78,277.39 L348.66,277.45 L348.55,277.51 L348.43,277.57 L348.32,277.63 L348.20,277.69 L348.09,277.75 L347.97,277.81 L347.86,277.87 L347.75,277.93 L347.63,278.00 L347.52,278.06 L347.41,278.12 L347.30,278.18 L347.18,278.24 L347.07,278.30 L346.96,278.37 L346.85,278.43 L346.74,278.49 L346.63,278.55 L346.52,278.62 L346.41,278.68 L346.30,278.74 L346.19,278.81 L346.08,278.87 L345.97,278.93 L345.86,279.00 L345.75,279.06 L345.65,279.12 L345.54,279.19 L345.43,279.25 L345.32,279.32 L345.22,279.38 L345.11,279.45 L345.00,279.51 L344.90,279.57 L344.79,279.64 L344.69,279.71 L344.58,279.77 L344.48,279.84 L344.37,279.90 L344.27,279.97 L344.16,280.03 L344.06,280.10 L343.96,280.17 L343.85,280.23 L343.75,280.30 L343.65,280.36 L343.55,280.43 L343.45,280.50 L343.34,280.57 L343.24,280.63 L343.14,280.70 L343.04,280.77 L342.94,280.83 L342.84,280.90 L342.74,280.97 L342.64,281.04 L342.54,281.11 L342.44,281.17 L342.34,281.24 L342.25,281.31 L342.15,281.38 L342.05,281.45 L341.95,281.52 L341.86,281.59 L341.76,281.66 L341.66,281.72 L341.57,281.79 L341.47,281.86 L341.37,281.93 L341.28,282.00 L341.18,282.07 L341.09,282.14 L340.99,282.21 L340.90,282.28 L340.81,282.35 L340.71,282.43 L340.62,282.50 L340.52,282.57 L340.43,282.64 L340.34,282.71 L340.25,282.78 L340.16,282.85 L340.06,282.92 L339.97,283.00 L339.88,283.07 L339.79,283.14 L339.70,283.21 L339.61,283.28 L339.52,283.36 L339.43,283.43 L339.34,283.50 L339.25,283.57 L339.16,283.65 L339.08,283.72 L338.99,283.79 L338.90,283.87 L338.81,283.94 L338.72,284.01 L338.64,284.09 L338.55,284.16 L338.47,284.23 L338.38,284.31 L338.29,284.38 L338.21,284.46 L338.12,284.53 L338.04,284.61 L337.95,284.68 L337.87,284.76 L337.79,284.83 L337.70,284.91 L337.62,284.98 L337.54,285.06 L337.45,285.13 L337.37,285.21 L337.29,285.28 L337.21,285.36 L337.12,285.44 L337.04,285.51 L336.96,285.59 L336.88,285.66 L336.80,285.74 L336.72,285.82 L336.64,285.89 L336.56,285.97 L336.48,286.05 L336.40,286.12 L336.33,286.20 L336.25,286.28 L336.17,286.36 L336.09,286.43 L336.01,286.51 L335.94,286.59 L335.86,286.67 L335.78,286.75 L335.71,286.82 L335.63,286.90 L335.56,286.98 L335.48,287.06 L335.41,287.14 L335.33,287.22 L335.26,287.30 L335.18,287.37 L335.11,287.45 L335.04,287.53 L334.96,287.61 L334.89,287.69 L334.82,287.77 L334.74,287.85 L334.67,287.93 L334.60,288.01 L334.53,288.09 L334.46,288.17 L334.39,288.25 L334.32,288.33 L334.25,288.41 L334.18,288.49 L334.11,288.57 L334.04,288.66 L333.97,288.74 L333.90,288.82 L333.83,288.90 L333.76,288.98 L333.70,289.06 L333.63,289.14 L333.56,289.23 L333.49,289.31 L333.43,289.39 L333.36,289.47 L333.29,289.55 L333.23,289.64 L333.16,289.72 L333.10,289.80 L333.03,289.88 L332.97,289.97 L332.90,290.05 L332.84,290.13 L332.78,290.21 L332.71,290.30 L332.65,290.38 L332.59,290.46 L332.53,290.55 L332.46,290.63 L332.40,290.72 L332.34,290.80 L332.28,290.88 L332.22,290.97 L332.16,291.05 L332.10,291.14 L332.04,291.22 L331.98,291.30 L331.92,291.39 L331.86,291.47 L331.80,291.56 L331.74,291.64 L331.68,291.73 L331.63,291.81 L331.57,291.90 L331.51,291.98 L331.45,292.07 L331.40,292.16 L331.34,292.24 L331.28,292.33 L331.23,292.41 L331.17,292.50 L331.12,292.59 L331.06,292.67 L331.01,292.76 L330.95,292.84 L330.90,292.93 L330.85,293.02 L330.79,293.10 L330.74,293.19 L330.69,293.28 L330.63,293.36 L330.58,293.45 L330.53,293.54 L330.48,293.63 L330.43,293.71 L330.38,293.80 L330.33,293.89 L330.27,293.98 L330.22,294.06 L330.17,294.15 L330.13,294.24 L330.08,294.33 L330.03,294.42 L329.98,294.50 L329.93,294.59 L329.88,294.68 L329.83,294.77 L329.79,294.86 L329.74,294.95 L329.69,295.04 L329.65,295.13 L329.60,295.21 L329.55,295.30 L329.51,295.39 L329.46,295.48 L329.42,295.57 L329.37,295.66 L329.33,295.75 L329.29,295.84 L329.24,295.93 L329.20,296.02 L329.16,296.11 L329.11,296.20 L329.07,296.29 L329.03,296.38 L328.99,296.47 L328.94,296.56 L328.90,296.65 L328.86,296.74 L328.82,296.83 L328.78,296.92 L328.74,297.02 L328.70,297.11 L328.66,297.20 L328.62,297.29 L328.58,297.38 L328.54,297.47 L328.51,297.56 L328.47,297.65 L328.43,297.75 L328.39,297.84 L328.36,297.93 L328.32,298.02 L328.28,298.11 L328.25,298.20 L328.21,298.30 L328.17,298.39 L328.14,298.48 L328.10,298.57 L328.07,298.67 L328.03,298.76 L328.00,298.85 L327.97,298.94 L327.93,299.04 L327.90,299.13 L327.87,299.22 L327.83,299.31 L327.80,299.41 L327.77,299.50 L327.74,299.59 L327.71,299.69 L327.68,299.78 L327.65,299.87 L327.61,299.97 L327.58,300.06 L327.55,300.16 L327.53,300.25 L327.50,300.34 L327.47,300.44 L327.44,300.53 L327.41,300.62 L327.38,300.72 L327.35,300.81 L327.33,300.91 L327.30,301.00 L327.27,301.10 L327.25,301.19 L327.22,301.29 L327.19,301.38 L327.17,301.47 L327.14,301.57 L327.12,301.66 L327.09,301.76 L327.07,301.85 L327.04,301.95 L327.02,302.04 L327.00,302.14 L326.97,302.23 L326.95,302.33 L326.93,302.43 L326.91,302.52 L326.88,302.62 L326.86,302.71 L326.84,302.81 L326.82,302.90 L326.80,303.00 L326.78,303.10 L326.76,303.19 L326.74,303.29 L326.72,303.38 L326.70,303.48 L326.68,303.58 L326.66,303.67 L326.64,303.77 L326.62,303.86 L326.61,303.96 L326.59,304.06 L326.57,304.15 L326.55,304.25 L326.54,304.35 L326.52,304.44 L326.51,304.54 L326.49,304.64 L326.47,304.73 L326.46,304.83 L326.45,304.93 L326.43,305.03 L326.42,305.12 L326.40,305.22 L326.39,305.32 L326.38,305.41 L326.36,305.51 L326.35,305.61 L326.34,305.71 L326.33,305.80 L326.31,305.90 L326.30,306.00 L326.29,306.10 L326.28,306.20 L326.27,306.29 L326.26,306.39 L326.25,306.49 L326.24,306.59 L326.23,306.68 L326.22,306.78 L326.21,306.88 L326.20,306.98 L326.20,307.08 L326.19,307.18 L326.18,307.27 L326.17,307.37 L326.17,307.47 L326.16,307.57 L326.15,307.67 L326.15,307.77 L326.14,307.86 L326.14,307.96 L326.13,308.06 L326.13,308.16 L326.12,308.26 L326.12,308.36 L326.11,308.46 L326.11,308.56 L326.11,308.66 L326.10,308.75 L326.10,308.85 L326.10,308.95 L326.10,309.05 L326.09,309.15 L326.09,309.25 L326.09,309.35 L326.09,309.45 L326.09,309.55 L326.09,309.65 L326.09,309.75 L326.09,309.85 L326.09,309.94 L326.09,310.04 L326.09,310.14 L326.09,310.24 L326.10,310.34 L326.10,310.44 L326.10,310.54 L326.10,310.64 L326.11,310.74 L326.11,310.84 L326.11,310.94 L326.12,311.04 L326.12,311.14 L326.13,311.24 L326.13,311.34 L326.14,311.44 L326.14,311.54 L326.15,311.64 L326.15,311.74 L326.16,311.84 L326.17,311.94 L326.17,312.04 L326.18,312.14 L326.19,312.24 L326.20,312.34 L326.20,312.44 L326.21,312.54 L326.22,312.64 L326.23,312.74 L326.24,312.84 L326.25,312.94 L326.26,313.04 L326.27,313.14 L326.28,313.24 L326.29,313.34 L326.30,313.44 L326.31,313.55 L326.33,313.65 L326.34,313.75 L326.35,313.85 L326.36,313.95 L326.38,314.05 L326.39,314.15 L326.40,314.25 L326.42,314.35 L326.43,314.45 L326.45,314.55 L326.46,314.65 L326.47,314.75 L326.49,314.85 L326.51,314.95 L326.52,315.05 L326.54,315.15 L326.55,315.26 L326.57,315.36 L326.59,315.46 L326.61,315.56 L326.62,315.66 L326.64,315.76 L326.66,315.86 L326.68,315.96 L326.70,316.06 L326.72,316.16 L326.74,316.26 L326.76,316.36 L326.78,316.47 L326.80,316.57 L326.82,316.67 L326.84,316.77 L326.86,316.87 L326.88,316.97 L326.91,317.07 L326.93,317.17 L326.95,317.27 L326.97,317.37 L327.00,317.47 L327.02,317.57 L327.04,317.68 L327.07,317.78 L327.09,317.88 L327.12,317.98 L327.14,318.08 L327.17,318.18 L327.19,318.28 L327.22,318.38 L327.25,318.48 L327.27,318.58 L327.30,318.68 L327.33,318.79 L327.35,318.89 L327.38,318.99 L327.41,319.09 L327.44,319.19 L327.47,319.29 L327.50,319.39 L327.53,319.49 L327.55,319.59 L327.58,319.69 L327.61,319.79 L327.65,319.89 L327.68,319.99 L327.71,320.10 L327.74,320.20 L327.77,320.30 L327.80,320.40 L327.83,320.50 L327.87,320.60 L327.90,320.70 L327.93,320.80 L327.97,320.90 L328.00,321.00 L328.03,321.10 L328.07,321.20 L328.10,321.30 L328.14,321.40 L328.17,321.50 L328.21,321.61 L328.25,321.71 L328.28,321.81 L328.32,321.91 L328.36,322.01 L328.39,322.11 L328.43,322.21 L328.47,322.31 L328.51,322.41 L328.54,322.51 L328.58,322.61 L328.62,322.71 L328.66,322.81 L328.70,322.91 L328.74,323.01 L328.78,323.11 L328.82,323.21 L328.86,323.31 L328.90,323.41 L328.94,323.51 L328.99,323.61 L329.03,323.71 L329.07,323.81 L329.11,323.91 L329.16,324.01 L329.20,324.11 L329.24,324.21 L329.29,324.31 L329.33,324.41 L329.37,324.51 L329.42,324.61 L329.46,324.71 L329.51,324.81 L329.55,324.91 L329.60,325.01 L329.65,325.11 L329.69,325.21 L329.74,325.31 L329.79,325.41 L329.83,325.51 L329.88,325.61 L329.93,325.70 L329.98,325.80 L330.03,325.90 L330.08,326.00 L330.13,326.10 L330.17,326.20 L330.22,326.30 L330.27,326.40 L330.33,326.50 L330.38,326.60 L330.43,326.70 L330.48,326.79 L330.53,326.89 L330.58,326.99 L330.63,327.09 L330.69,327.19 L330.74,327.29 L330.79,327.39 L330.85,327.48 L330.90,327.58 L330.95,327.68 L331.01,327.78 L331.06,327.88 L331.12,327.98 L331.17,328.08 L331.23,328.17 L331.28,328.27 L331.34,328.37 L331.40,328.47 L331.45,328.57 L331.51,328.66 L331.57,328.76 L331.63,328.86 L331.68,328.96 L331.74,329.05 L331.80,329.15 L331.86,329.25 L331.92,329.35 L331.98,329.44 L332.04,329.54 L332.10,329.64 L332.16,329.74 L332.22,329.83 L332.28,329.93 L332.34,330.03 L332.40,330.12 L332.46,330.22 L332.53,330.32 L332.59,330.42 L332.65,330.51 L332.71,330.61 L332.78,330.71 L332.84,330.80 L332.90,330.90 L332.97,330.99 L333.03,331.09 L333.10,331.19 L333.16,331.28 L333.23,331.38 L333.29,331.48 L333.36,331.57 L333.43,331.67 L333.49,331.76 L333.56,331.86 L333.63,331.95 L333.70,332.05 L333.76,332.15 L333.83,332.24 L333.90,332.34 L333.97,332.43 L334.04,332.53 L334.11,332.62 L334.18,332.72 L334.25,332.81 L334.32,332.91 L334.39,333.00 L334.46,333.10 L334.53,333.19 L334.60,333.29 L334.67,333.38 L334.74,333.48 L334.82,333.57 L334.89,333.66 L334.96,333.76 L335.04,333.85 L335.11,333.95 L335.18,334.04 L335.26,334.13 L335.33,334.23 L335.41,334.32 L335.48,334.42 L335.56,334.51 L335.63,334.60 L335.71,334.70 L335.78,334.79 L335.86,334.88 L335.94,334.97 L336.01,335.07 L336.09,335.16 L336.17,335.25 L336.25,335.35 L336.33,335.44 L336.40,335.53 L336.48,335.62 L336.56,335.72 L336.64,335.81 L336.72,335.90 L336.80,335.99 L336.88,336.08 L336.96,336.18 L337.04,336.27 L337.12,336.36 L337.21,336.45 L337.29,336.54 L337.37,336.63 L337.45,336.73 L337.54,336.82 L337.62,336.91 L337.70,337.00 L337.79,337.09 L337.87,337.18 L337.95,337.27 L338.04,337.36 L338.12,337.45 L338.21,337.54 L338.29,337.63 L338.38,337.72 L338.47,337.81 L338.55,337.90 L338.64,337.99 L338.72,338.08 L338.81,338.17 L338.90,338.26 L338.99,338.35 L339.08,338.44 L339.16,338.53 L339.25,338.62 L339.34,338.71 L339.43,338.80 L339.52,338.88 L339.61,338.97 L339.70,339.06 L339.79,339.15 L339.88,339.24 L339.97,339.33 L340.06,339.41 L340.16,339.50 L340.25,339.59 L340.34,339.68 L340.43,339.76 L340.52,339.85 L340.62,339.94 L340.71,340.03 L340.81,340.11 L340.90,340.20 L340.99,340.29 L341.09,340.37 L341.18,340.46 L341.28,340.55 L341.37,340.63 L341.47,340.72 L341.57,340.80 L341.66,340.89 L341.76,340.98 L341.86,341.06 L341.95,341.15 L342.05,341.23 L342.15,341.32 L342.25,341.40 L342.34,341.49 L342.44,341.57 L342.54,341.66 L342.64,341.74 L342.74,341.83 L342.84,341.91 L342.94,342.00 L343.04,342.08 L343.14,342.16 L343.24,342.25 L343.34,342.33 L343.45,342.42 L343.55,342.50 L343.65,342.58 L343.75,342.67 L343.85,342.75 L343.96,342.83 L344.06,342.91 L344.16,343.00 L344.27,343.08 L344.37,343.16 L344.48,343.24 L344.58,343.33 L344.69,343.41 L344.79,343.49 L344.90,343.57 L345.00,343.65 L345.11,343.73 L345.22,343.82 L345.32,343.90 L345.43,343.98 L345.54,344.06 L345.65,344.14 L345.75,344.22 L345.86,344.30 L345.97,344.38 L346.08,344.46 L346.19,344.54 L346.30,344.62 L346.41,344.70 L346.52,344.78 L346.63,344.86 L346.74,344.94 L346.85,345.02 L346.96,345.10 L347.07,345.17 L347.18,345.25 L347.30,345.33 L347.41,345.41 L347.52,345.49 L347.63,345.57 L347.75,345.64 L347.86,345.72 L347.97,345.80 L348.09,345.88 L348.20,345.95 L348.32,346.03 L348.43,346.11 L348.55,346.18 L348.66,346.26 L348.78,346.34 L348.89,346.41 L349.01,346.49 L349.13,346.57 L349.24,346.64 L349.36,346.72 L349.48,346.79 L349.59,346.87 L349.71,346.94 L349.83,347.02 L349.95,347.09 L350.07,347.17 L350.19,347.24 L350.31,347.32 L350.43,347.39 L350.55,347.46 L350.67,347.54 L350.79,347.61 L350.91,347.69 L351.03,347.76 L351.15,347.83 L351.27,347.91 L351.39,347.98 L351.52,348.05 L351.64,348.12 L351.76,348.20 L351.88,348.27 L352.01,348.34 L352.13,348.41 L352.25,348.48 L352.38,348.55 L352.50,348.63 L352.63,348.70 L352.75,348.77 L352.88,348.84 L353.00,348.91 L353.13,348.98 L353.26,349.05 L353.38,349.12 L353.51,349.19 L353.64,349.26 L353.76,349.33 L353.89,349.40 L354.02,349.47 L354.15,349.54 L354.27,349.61 L354.40,349.67 L354.53,349.74 L354.66,349.81 L354.79,349.88 L354.92,349.95 L355.05,350.02 L355.18,350.08 L355.31,350.15 L355.44,350.22 L355.57,350.28 L355.70,350.35 L355.83,350.42 L355.97,350.48 L356.10,350.55 L356.23,350.62 L356.36,350.68 L356.50,350.75 L356.63,350.81 L356.76,350.88 L356.90,350.94 L357.03,351.01 L357.17,351.07 L357.30,351.14 L357.43,351.20 L357.57,351.27 L357.71,351.33 L357.84,351.40 L357.98,351.46 L358.11,351.52 L358.25,351.59 L358.39,351.65 L358.52,351.71 L358.66,351.77 L358.80,351.84 L358.94,351.90 L359.07,351.96 L359.21,352.02 L359.35,352.09 L359.49,352.15 L359.63,352.21 L359.77,352.27 L359.91,352.33 L360.05,352.39 L360.19,352.45 L360.33,352.51 L360.47,352.57 L360.61,352.63 L360.75,352.69 L360.89,352.75 L361.03,352.81 L361.17,352.87 L361.32,352.93 L361.46,352.99 L361.60,353.05 L361.75,353.10 L361.89,353.16 L362.03,353.22 L362.18,353.28 L362.32,353.34 L362.46,353.39 L362.61,353.45 L362.75,353.51 L362.90,353.56 L363.04,353.62 L363.19,353.68 L363.34,353.73 L363.48,353.79 L363.63,353.85 L363.77,353.90 L363.92,353.96 L364.07,354.01 L364.22,354.07 L364.36,354.12 L364.51,354.18 L364.66,354.23 L364.81,354.28 L364.96,354.34 L365.11,354.39 L365.25,354.44 L365.40,354.50 L365.55,354.55 L365.70,354.60 L365.85,354.66 L366.00,354.71 L366.15,354.76 L366.31,354.81 L366.46,354.86 L366.61,354.92 L366.76,354.97 L366.91,355.02 L367.06,355.07 L367.22,355.12 L367.37,355.17 L367.52,355.22 L367.67,355.27 L367.83,355.32 L367.98,355.37 L368.14,355.42 L368.29,355.47 L368.44,355.52 L368.60,355.57 L368.75,355.62 L368.91,355.66 L369.06,355.71 L369.22,355.76 L369.37,355.81 L369.53,355.86 L369.69,355.90 L369.84,355.95 L370.00,356.00 L370.16,356.04 L370.31,356.09 L370.47,356.14 L370.63,356.18 L370.79,356.23 L370.95,356.27 L371.10,356.32 L371.26,356.36 L371.42,356.41 L371.58,356.45 L371.74,356.50 L371.90,356.54 L372.06,356.58 L372.22,356.63 L372.38,356.67 L372.54,356.71 L372.70,356.76 L372.86,356.80 L373.02,356.84 L373.19,356.89 L373.35,356.93 L373.51,356.97 L373.67,357.01 L373.83,357.05 L374.00,357.09 L374.16,357.13 L374.32,357.18 L374.48,357.22 L374.65,357.26 L374.81,357.30 L374.98,357.34 L375.14,357.38 L375.30,357.41 L375.47,357.45 L375.63,357.49 L375.80,357.53 L375.96,357.57 L376.13,357.61 L376.30,357.65 L376.46,357.68 L376.63,357.72 L376.79,357.76 L376.96,357.80 L377.13,357.83 L377.29,357.87 L377.46,357.91 L377.63,357.94 L377.80,357.98 L377.97,358.01 L378.13,358.05 L378.30,358.08 L378.47,358.12 L378.64,358.15 L378.81,358.19 L378.98,358.22 L379.15,358.26 L379.32,358.29 L379.49,358.32 L379.66,358.36 L379.83,358.39 L380.00,358.42 L380.17,358.46 L380.34,358.49 L380.51,358.52 L380.68,358.55 L380.85,358.58 L381.02,358.62 L381.20,358.65 L381.37,358.68 L381.54,358.71 L381.71,358.74 L381.89,358.77 L382.06,358.80 L382.23,358.83 L382.41,358.86 L382.58,358.89 L382.75,358.92 L382.93,358.95 L383.10,358.97 L383.28,359.00 L383.45,359.03 L383.62,359.06 L383.80,359.09 L383.98,359.11 L384.15,359.14 L384.33,359.17 L384.50,359.19 L384.68,359.22 L384.85,359.25 L385.03,359.27 L385.21,359.30 L385.38,359.32 L385.56,359.35 L385.74,359.37 L385.91,359.40 L386.09,359.42 L386.27,359.45 L386.45,359.47 L386.63,359.50 L386.80,359.52 L386.98,359.54 L387.16,359.57 L387.34,359.59 L387.52,359.61 L387.70,359.63 L387.88,359.65 L388.06,359.68 L388.24,359.70 L388.42,359.72 L388.60,359.74 L388.78,359.76 L388.96,359.78 L389.14,359.80 L389.32,359.82 L389.50,359.84 L389.68,359.86 L389.86,359.88 L390.04,359.90 L390.23,359.92 L390.41,359.94 L390.59,359.96 L390.77,359.97 L390.95,359.99 L391.14,360.01 L391.32,360.03 L391.50,360.04 L391.68,360.06 L391.87,360.08 L392.05,360.09 L392.23,360.11 L392.42,360.13 L392.60,360.14 L392.79,360.16 L392.97,360.17 L393.16,360.19 L393.34,360.20 L393.52,360.22 L393.71,360.23 L393.89,360.24 L394.08,360.26 L394.26,360.27 L394.45,360.28 L394.64,360.30 L394.82,360.31 L395.01,360.32 L395.19,360.33 L395.38,360.35 L395.57,360.36 L395.75,360.37 L395.94,360.38 L396.13,360.39 L396.31,360.40 L396.50,360.41 L396.69,360.42 L396.88,360.43 L397.06,360.44 L397.25,360.45 L397.44,360.46 L397.63,360.47 L397.82,360.48 L398.00,360.49 L398.19,360.50 L398.38,360.50 L398.57,360.51 L398.76,360.52 L398.95,360.53 L399.14,360.53 L399.33,360.54 L399.52,360.55 L399.71,360.55 L399.90,360.56 L400.09,360.56 L400.28,360.57 L400.47,360.57 L400.66,360.58 L400.85,360.58 L401.04,360.59 L401.23,360.59 L401.42,360.60 L401.61,360.60 L401.80,360.60 L401.99,360.61 L402.18,360.61 L402.37,360.61 L402.57,360.61 L402.76,360.62 L402.95,360.62 L403.14,360.62 L403.33,360.62 L403.53,360.62 L403.72,360.62 L403.91,360.62 L404.10,360.63 L404.30,360.63 L404.49,360.63 L404.68,360.63 L404.88,360.62 L405.07,360.62 L405.26,360.62 L405.46,360.62 L405.65,360.62 L405.84,360.62 L406.04,360.62 L406.23,360.61 L406.42,360.61 L406.62,360.61 L406.81,360.60 L407.01,360.60 L407.20,360.60 L407.40,360.59 L407.59,360.59 L407.78,360.59 L407.98,360.58 L408.17,360.58 L408.37,360.57 L408.56,360.57 L408.76,360.56 L408.96,360.55 L409.15,360.55 L409.35,360.54 L409.54,360.54 L409.74,360.53 L409.93,360.52 L410.13,360.51 L410.33,360.51 L410.52,360.50 L410.72,360.49 L410.91,360.48 L411.11,360.47 L411.31,360.46 L411.50,360.46 L411.70,360.45 L411.90,360.44 L412.09,360.43 L412.29,360.42 L412.49,360.41 L412.68,360.40 L412.88,360.39 L413.08,360.37 L413.28,360.36 L413.47,360.35 L413.67,360.34 L413.87,360.33 L414.06,360.31 L414.26,360.30 L414.46,360.29 L414.66,360.28 L414.86,360.26 L415.05,360.25 L415.25,360.24 L415.45,360.22 L415.65,360.21 L415.85,360.19 L416.04,360.18 L416.24,360.16 L416.44,360.15 L416.64,360.13 L416.84,360.12 L417.04,360.10 L417.24,360.08 L417.43,360.07 L417.63,360.05 L417.83,360.03 L418.03,360.02 L418.23,360.00 L418.43,359.98 L418.63,359.96 L418.83,359.94 L419.03,359.93 L419.22,359.91 L419.42,359.89 L419.62,359.87 L419.82,359.85 L420.02,359.83 L420.22,359.81 L420.42,359.79 L420.62,359.77 L420.82,359.75 L421.02,359.73 L421.22,359.71 L421.42,359.68 L421.62,359.66 L421.82,359.64 L422.02,359.62 L422.22,359.60 L422.42,359.57 L422.62,359.55 L422.82,359.53 L423.02,359.50 L423.22,359.48 L423.42,359.46 L423.62,359.43 L423.82,359.41 L424.02,359.38 L424.22,359.36 L424.42,359.33 L424.62,359.31 L424.82,359.28 L425.02,359.26 L425.22,359.23 L425.42,359.20 L425.62,359.18 L425.82,359.15 L426.02,359.12 L426.22,359.10 L426.42,359.07 L426.62,359.04 L426.82,359.01 L427.02,358.98 L427.22,358.96 L427.42,358.93 L427.62,358.90 L427.82,358.87 L428.02,358.84 L428.22,358.81 L428.42,358.78 L428.62,358.75 L428.82,358.72 L429.02,358.69 L429.22,358.66 L429.42,358.63 L429.62,358.60 L429.83,358.56 L430.03,358.53 L430.23,358.50 L430.43,358.47 L430.63,358.44 L430.83,358.40 L431.03,358.37 L431.23,358.34 L431.43,358.30 L431.63,358.27 L431.83,358.24 L432.03,358.20 L432.23,358.17 L432.43,358.13 L432.63,358.10 L432.83,358.06 L433.03,358.03 L433.23,357.99 L433.43,357.96 L433.63,357.92 L433.83,357.88 L434.03,357.85 L434.23,357.81 L434.43,357.77 L434.63,357.74 L434.83,357.70 L435.03,357.66 L435.23,357.62 L435.43,357.58 L435.63,357.55 L435.83,357.51 L436.03,357.47 L436.23,357.43 L436.43,357.39 L436.63,357.35 L436.83,357.31 L437.03,357.27 L437.23,357.23 L437.43,357.19 L437.63,357.15 L437.83,357.11 L438.02,357.07 L438.22,357.03 L438.42,356.98 L438.62,356.94 L438.82,356.90 L439.02,356.86 L439.22,356.82 L439.42,356.77 L439.62,356.73 L439.82,356.69 L440.01,356.64 L440.21,356.60 L440.41,356.56 L440.61,356.51 L440.81,356.47 L441.01,356.42 L441.21,356.38 L441.40,356.33 L441.60,356.29 L441.80,356.24 L442.00,356.20 L442.20,356.15 L442.39,356.11 L442.59,356.06 L442.79,356.01 L442.99,355.97 L443.19,355.92 L443.38,355.87 L443.58,355.82 L443.78,355.78 L443.98,355.73 L444.17,355.68 L444.37,355.63 L444.57,355.58 L444.76,355.54 L444.96,355.49 L445.16,355.44 L445.36,355.39 L445.55,355.34 L445.75,355.29 L445.94,355.24 L446.14,355.19 L446.34,355.14 L446.53,355.09 L446.73,355.04 L446.93,354.99 L447.12,354.94 L447.32,354.88 L447.51,354.83 L447.71,354.78 L447.90,354.73 L448.10,354.68 L448.30,354.62 L448.49,354.57 L448.69,354.52 L448.88,354.46 L449.08,354.41 L449.27,354.36 L449.46,354.30 L449.66,354.25 L449.85,354.20 L450.05,354.14 L450.24,354.09 L450.44,354.03 L450.63,353.98 L450.82,353.92 L451.02,353.87 L451.21,353.81 L451.40,353.75 L451.60,353.70 L451.79,353.64 L451.98,353.59 L452.18,353.53 L452.37,353.47 L452.56,353.41 L452.76,353.36 L452.95,353.30 L453.14,353.24 L453.33,353.18 L453.52,353.13 L453.72,353.07 L453.91,353.01 L454.10,352.95 L454.29,352.89 L454.48,352.83 L454.67,352.77 L454.86,352.71 L455.06,352.65 L455.25,352.59 L455.44,352.53 L455.63,352.47 L455.82,352.41 L456.01,352.35 L456.20,352.29 L456.39,352.23 L456.58,352.17 L456.77,352.11 L456.96,352.05 L457.15,351.98 L457.33,351.92 L457.52,351.86 L457.71,351.80 L457.90,351.73 L458.09,351.67 L458.28,351.61 L458.46,351.55 L458.65,351.48 L458.84,351.42 L459.03,351.35 L459.22,351.29 L459.40,351.23 L459.59,351.16 L459.78,351.10 L459.96,351.03 L460.15,350.97 L460.34,350.90 L460.52,350.84 L460.71,350.77 L460.89,350.71 L461.08,350.64 L461.27,350.57 L461.45,350.51 L461.64,350.44 L461.82,350.38 L462.01,350.31 L462.19,350.24 L462.37,350.17 L462.56,350.11 L462.74,350.04 L462.93,349.97 L463.11,349.90 L463.29,349.84 L463.48,349.77 L463.66,349.70 L463.84,349.63 L464.02,349.56 L464.21,349.49 L464.39,349.42 L464.57,349.35 L464.75,349.29 L464.93,349.22 L465.12,349.15 L465.30,349.08 L465.48,349.01 L465.66,348.94 L465.84,348.86 L466.02,348.79 L466.20,348.72 L466.38,348.65 L466.56,348.58 L466.74,348.51 L466.92,348.44 L467.10,348.37 L467.28,348.29 L467.45,348.22 L467.63,348.15 L467.81,348.08 L467.99,348.00 L468.17,347.93 L468.34,347.86 L468.52,347.79 L468.70,347.71 L468.87,347.64 L469.05,347.57 L469.23,347.49 L469.40,347.42 L469.58,347.34 L469.75,347.27 L469.93,347.20 L470.11,347.12 L470.28,347.05 L470.45,346.97 L470.63,346.90 L470.80,346.82 L470.98,346.74 L471.15,346.67 L471.32,346.59 L471.50,346.52 L471.67,346.44 L471.84,346.37 L472.02,346.29 L472.19,346.21 L472.36,346.14 L472.53,346.06 L472.70,345.98 L472.87,345.90 L473.04,345.83 L473.22,345.75 L473.39,345.67 L473.56,345.59 L473.73,345.52 L473.90,345.44 L474.06,345.36 L474.23,345.28 L474.40,345.20 L474.57,345.12 L474.74,345.05 L474.91,344.97 L475.08,344.89 L475.24,344.81 L475.41,344.73 L475.58,344.65 L475.74,344.57 L475.91,344.49 L476.08,344.41 L476.24,344.33 L476.41,344.25 L476.57,344.17 L476.74,344.09 L476.90,344.01 L477.07,343.93 L477.23,343.85 L477.40,343.76 L477.56,343.68 L477.72,343.60 L477.88,343.52 L478.05,343.44 L478.21,343.36 L478.37,343.27 L478.53,343.19 L478.70,343.11 L478.86,343.03 L479.02,342.94 L479.18,342.86 L479.34,342.78 L479.50,342.70 L479.66,342.61 L479.82,342.53 L479.98,342.45 L480.14,342.36 L480.30,342.28 L480.45,342.20 L480.61,342.11 L480.77,342.03 L480.93,341.94 L481.08,341.86 L481.24,341.77 L481.40,341.69 L481.55,341.60 L481.71,341.52 L481.86,341.43 L482.02,341.35 L482.17,341.26 L482.33,341.18 L482.48,341.09 L482.64,341.01 L482.79,340.92 L482.94,340.84 L483.10,340.75 L483.25,340.66 L483.40,340.58 L483.55,340.49 L483.71,340.40 L483.86,340.32 L484.01,340.23 L484.16,340.14 L484.31,340.06 L484.46,339.97 L484.61,339.88 L484.76,339.80 L484.91,339.71 L485.06,339.62 L485.20,339.53 L485.35,339.45 L485.50,339.36 L485.65,339.27 L485.79,339.18 L485.94,339.09 L486.09,339.00 L486.23,338.92 L486.38,338.83 L486.52,338.74 L486.67,338.65 L486.81,338.56 L486.96,338.47 L487.10,338.38 L487.25,338.29 L487.39,338.20 L487.53,338.11 L487.67,338.02 L487.82,337.93 L487.96,337.84 L488.10,337.76 L488.24,337.66 L488.38,337.57 L488.52,337.48 L488.66,337.39 L488.80,337.30 L488.94,337.21 L489.08,337.12 L489.22,337.03 L489.36,336.94 L489.50,336.85 L489.63,336.76 L489.77,336.67 L489.91,336.58 L490.04,336.48 L490.18,336.39 L490.32,336.30 L490.45,336.21 L490.59,336.12 L490.72,336.03 L490.85,335.93 L490.99,335.84 L491.12,335.75 L491.26,335.66 L491.39,335.57 L491.52,335.47 L491.65,335.38 L491.78,335.29 L491.92,335.19 L492.05,335.10 L492.18,335.01 L492.31,334.92 L492.44,334.82 L492.57,334.73 L492.69,334.64 L492.82,334.54 L492.95,334.45 L493.08,334.36 L493.21,334.26 L493.33,334.17 L493.46,334.07 L493.59,333.98 L493.71,333.89 L493.84,333.79 L493.96,333.70 L494.09,333.60 L494.21,333.51 L494.34,333.42 L494.46,333.32 L494.58,333.23 L494.70,333.13 L494.83,333.04 L494.95,332.94 L495.07,332.85 L495.19,332.75 L495.31,332.66 L495.43,332.56 L495.55,332.47 L495.67,332.37 L495.79,332.28 L495.91,332.18 L496.03,332.09 L496.15,331.99 L496.26,331.89 L496.38,331.80 L496.50,331.70 L496.61,331.61 L496.73,331.51 L496.84,331.41 L496.96,331.32 L497.07,331.22 L497.19,331.13 L497.30,331.03 L497.42,330.93 L497.53,330.84 L497.64,330.74 L497.75,330.64 L497.86,330.55 L497.98,330.45 L498.09,330.35 L498.20,330.26 L498.31,330.16 L498.42,330.06 L498.53,329.97 L498.63,329.87 L498.74,329.77 L498.85,329.67 L498.96,329.58 L499.07,329.48 L499.17,329.38 L499.28,329.28 L499.38,329.19 L499.49,329.09 L499.59,328.99 L499.70,328.89 L499.80,328.80 L499.91,328.70 L500.01,328.60 L500.11,328.50 L500.21,328.41 L500.32,328.31 L500.42,328.21 L500.52,328.11 L500.62,328.01 L500.72,327.91 L500.82,327.82 L500.92,327.72 L501.02,327.62 L501.12,327.52 L501.21,327.42 L501.31,327.32 L501.41,327.23 L501.50,327.13 L501.60,327.03 L501.70,326.93 L501.79,326.83 L501.89,326.73 L501.98,326.63 L502.07,326.53 L502.17,326.43 L502.26,326.34 L502.35,326.24 L502.45,326.14 L502.54,326.04 L502.63,325.94 L502.72,325.84 L502.81,325.74 L502.90,325.64 L502.99,325.54 L503.08,325.44 L503.17,325.34 L503.25,325.24 L503.34,325.14 L503.43,325.04 L503.52,324.95 L503.60,324.85 L503.69,324.75 L503.77,324.65 L503.86,324.55 L503.94,324.45 L504.03,324.35 L504.11,324.25 L504.19,324.15 L504.28,324.05 L504.36,323.95 L504.44,323.85 L504.52,323.75 L504.60,323.65 L504.68,323.55 L504.76,323.45 L504.84,323.35 L504.92,323.25 L505.00,323.15 L505.08,323.05 L505.15,322.95 L505.23,322.85 L505.31,322.75 L505.38,322.65 L505.46,322.55 L505.53,322.45 L505.61,322.34 L505.68,322.24 L505.76,322.14 L505.83,322.04 L505.90,321.94 L505.97,321.84 L506.05,321.74 L506.12,321.64 L506.19,321.54 L506.26,321.44 L506.33,321.34 L506.40,321.24 L506.47,321.14 L506.54,321.04 L506.60,320.94 L506.67,320.84 L506.74,320.74 L506.80,320.64 L506.87,320.54 L506.94,320.43 L507.00,320.33 L507.07,320.23 L507.13,320.13 L507.19,320.03 L507.26,319.93 L507.32,319.83 L507.38,319.73 L507.44,319.63 L507.51,319.53 L507.57,319.43 L507.63,319.33 L507.69,319.23 L507.75,319.12 L507.80,319.02 L507.86,318.92 L507.92,318.82 L507.98,318.72 L508.04,318.62 L508.09,318.52 L508.15,318.42 L508.20,318.32 L508.26,318.22 L508.31,318.12 L508.37,318.01 L508.42,317.91 L508.47,317.81 L508.53,317.71 L508.58,317.61 L508.63,317.51 L508.68,317.41 L508.73,317.31 L508.78,317.21 L508.83,317.11 L508.88,317.01 L508.93,316.91 L508.98,316.80 L509.02,316.70 L509.07,316.60 L509.12,316.50 L509.16,316.40 L509.21,316.30 L509.25,316.20 L509.30,316.10 L509.34,316.00 L509.39,315.90 L509.43,315.80 L509.47,315.70 L509.51,315.59 L509.56,315.49 L509.60,315.39 L509.64,315.29 L509.68,315.19 L509.72,315.09 L509.76,314.99 L509.80,314.89 L509.83,314.79 L509.87,314.69 L509.91,314.59 L509.95,314.49 L509.98,314.39 L510.02,314.29 L510.05,314.18 L510.09,314.08 L510.12,313.98 L510.16,313.88 L510.19,313.78 L510.22,313.68 L510.25,313.58 L510.28,313.48 L510.32,313.38 L510.35,313.28 L510.38,313.18 L510.41,313.08 L510.44,312.98 L510.46,312.88 L510.49,312.78 L510.52,312.68 L510.55,312.58 L510.57,312.48 L510.60,312.38 L510.63,312.28 L510.65,312.18 L510.68,312.08 L510.70,311.98 L510.72,311.88 L510.75,311.78 L510.77,311.68 L510.79,311.58 L510.81,311.48 L510.83,311.38 L510.85,311.28 L510.87,311.18 L510.89,311.08 L510.91,310.98 L510.93,310.88 L510.95,310.78 L510.97,310.68 L510.98,310.58 L511.00,310.48 L511.02,310.38 L511.03,310.28 L511.05,310.18 L511.06,310.08 L511.08,309.98 L511.09,309.88 L511.10,309.78 L511.11,309.68 L511.13,309.58 L511.14,309.48 L511.15,309.38 L511.16,309.29 L511.17,309.19 L511.18,309.09 L511.19,308.99 L511.20,308.89 L511.20,308.79 L511.21,308.69 L511.22,308.59 L511.22,308.49 L511.23,308.39 L511.24,308.30 L511.24,308.20 L511.24,308.10 L511.25,308.00 L511.25,307.90 L511.25,307.80 L511.26,307.70 L511.26,307.61 L511.26,307.51 L511.26,307.41 L511.26,307.31 Z" fill="none" stroke="#222" stroke-width="3.0" stroke-dasharray="31 14.236" stroke-dashoffset="8.14"/>
<ellipse transform="translate(1486,478.3) scale(1.2,1)" rx="17.917" ry="17.3" fill="#fff" stroke="#000" stroke-width="3.9"/><text transform="translate(1485.7,486.6) scale(1.12,1)" text-anchor="middle" font-family="Liberation Sans" font-weight="normal" font-size="21.7" fill="#2b2b2b" stroke="#2b2b2b" stroke-width="0.8">31</text><ellipse transform="translate(1436.3,258.6) scale(1.2,1)" rx="17.917" ry="17.3" fill="#fff" stroke="#000" stroke-width="3.9"/><text transform="translate(1436.0,266.90000000000003) scale(1.12,1)" text-anchor="middle" font-family="Liberation Sans" font-weight="normal" font-size="21.7" fill="#2b2b2b" stroke="#2b2b2b" stroke-width="0.8">34</text><ellipse transform="translate(1407.8,258.6) scale(1.2,1)" rx="17.917" ry="17.3" fill="#fff" stroke="#000" stroke-width="3.9"/><text transform="translate(1407.5,266.90000000000003) scale(1.12,1)" text-anchor="middle" font-family="Liberation Sans" font-weight="normal" font-size="21.7" fill="#2b2b2b" stroke="#2b2b2b" stroke-width="0.8">33</text><ellipse transform="translate(1397.6,193.3) scale(1.2,1)" rx="17.917" ry="17.3" fill="#fff" stroke="#000" stroke-width="3.9"/><text transform="translate(1397.3,201.60000000000002) scale(1.12,1)" text-anchor="middle" font-family="Liberation Sans" font-weight="normal" font-size="21.7" fill="#2b2b2b" stroke="#2b2b2b" stroke-width="0.8">32</text><ellipse transform="translate(1148.3,226.5) scale(1.2,1)" rx="17.917" ry="17.3" fill="#fff" stroke="#000" stroke-width="3.9"/><text transform="translate(1148.0,234.8) scale(1.12,1)" text-anchor="middle" font-family="Liberation Sans" font-weight="normal" font-size="21.7" fill="#2b2b2b" stroke="#2b2b2b" stroke-width="0.8">8</text><ellipse transform="translate(941,744) scale(1.2,1)" rx="17.917" ry="17.3" fill="#fff" stroke="#000" stroke-width="3.9"/><text transform="translate(940.7,752.3) scale(1.12,1)" text-anchor="middle" font-family="Liberation Sans" font-weight="normal" font-size="21.7" fill="#2b2b2b" stroke="#2b2b2b" stroke-width="0.8">26</text><ellipse transform="translate(859.3,230) scale(1.2,1)" rx="17.917" ry="17.3" fill="#fff" stroke="#000" stroke-width="3.9"/><text transform="translate(859.0,238.3) scale(1.12,1)" text-anchor="middle" font-family="Liberation Sans" font-weight="normal" font-size="21.7" fill="#2b2b2b" stroke="#2b2b2b" stroke-width="0.8">37</text><ellipse transform="translate(704,230.7) scale(1.2,1)" rx="17.917" ry="17.3" fill="#fff" stroke="#000" stroke-width="3.9"/><text transform="translate(703.7,239.0) scale(1.12,1)" text-anchor="middle" font-family="Liberation Sans" font-weight="normal" font-size="21.7" fill="#2b2b2b" stroke="#2b2b2b" stroke-width="0.8">38</text><ellipse transform="translate(699.9,366.6) scale(1.2,1)" rx="17.917" ry="17.3" fill="#fff" stroke="#000" stroke-width="3.9"/><ellipse transform="translate(699.9,366.6) scale(1.2,1)" rx="17.917" ry="17.3" fill="#fff" stroke="#000" stroke-width="3.9"/><text transform="translate(699.6,374.90000000000003) scale(1.12,1)" text-anchor="middle" font-family="Liberation Sans" font-weight="normal" font-size="21.7" fill="#2b2b2b" stroke="#2b2b2b" stroke-width="0.8">20</text><text transform="translate(699.6,374.90000000000003) scale(1.12,1)" text-anchor="middle" font-family="Liberation Sans" font-weight="normal" font-size="21.7" fill="#2b2b2b" stroke="#2b2b2b" stroke-width="0.8">36</text><ellipse transform="translate(675.6,313.7) scale(1.2,1)" rx="17.917" ry="17.3" fill="#fff" stroke="#000" stroke-width="3.9"/><text transform="translate(675.3000000000001,322.0) scale(1.12,1)" text-anchor="middle" font-family="Liberation Sans" font-weight="normal" font-size="21.7" fill="#2b2b2b" stroke="#2b2b2b" stroke-width="0.8">28</text><ellipse transform="translate(656.7,392.6) scale(1.2,1)" rx="17.917" ry="17.3" fill="#fff" stroke="#000" stroke-width="3.9"/><text transform="translate(656.4000000000001,400.90000000000003) scale(1.12,1)" text-anchor="middle" font-family="Liberation Sans" font-weight="normal" font-size="21.7" fill="#2b2b2b" stroke="#2b2b2b" stroke-width="0.8">42</text><ellipse transform="translate(622.8,347.8) scale(1.2,1)" rx="17.917" ry="17.3" fill="#fff" stroke="#000" stroke-width="3.9"/><text transform="translate(622.5,356.1) scale(1.12,1)" text-anchor="middle" font-family="Liberation Sans" font-weight="normal" font-size="21.7" fill="#2b2b2b" stroke="#2b2b2b" stroke-width="0.8">54</text><ellipse transform="translate(606.3,235.8) scale(1.2,1)" rx="17.917" ry="17.3" fill="#fff" stroke="#000" stroke-width="3.9"/><text transform="translate(606.0,244.10000000000002) scale(1.12,1)" text-anchor="middle" font-family="Liberation Sans" font-weight="normal" font-size="21.7" fill="#2b2b2b" stroke="#2b2b2b" stroke-width="0.8">22</text><ellipse transform="translate(586.9,367.9) scale(1.2,1)" rx="17.917" ry="17.3" fill="#fff" stroke="#000" stroke-width="3.9"/><text transform="translate(586.6,376.2) scale(1.12,1)" text-anchor="middle" font-family="Liberation Sans" font-weight="normal" font-size="21.7" fill="#2b2b2b" stroke="#2b2b2b" stroke-width="0.8">15</text><ellipse transform="translate(585.9,219.1) scale(1.2,1)" rx="17.917" ry="17.3" fill="#fff" stroke="#000" stroke-width="3.9"/><text transform="translate(585.6,227.4) scale(1.12,1)" text-anchor="middle" font-family="Liberation Sans" font-weight="normal" font-size="21.7" fill="#2b2b2b" stroke="#2b2b2b" stroke-width="0.8">21</text><ellipse transform="translate(554.1,297) scale(1.2,1)" rx="17.917" ry="17.3" fill="#fff" stroke="#000" stroke-width="3.9"/><ellipse transform="translate(558.1,297) scale(1.2,1)" rx="17.917" ry="17.3" fill="#fff" stroke="#000" stroke-width="3.9"/><text transform="translate(553.8000000000001,305.3) scale(1.12,1)" text-anchor="middle" font-family="Liberation Sans" font-weight="normal" font-size="21.7" fill="#2b2b2b" stroke="#2b2b2b" stroke-width="0.8">13</text><text transform="translate(557.8000000000001,305.3) scale(1.12,1)" text-anchor="middle" font-family="Liberation Sans" font-weight="normal" font-size="21.7" fill="#2b2b2b" stroke="#2b2b2b" stroke-width="0.8">24</text><ellipse transform="translate(546.6,226.5) scale(1.2,1)" rx="17.917" ry="17.3" fill="#fff" stroke="#000" stroke-width="3.9"/><ellipse transform="translate(547,229) scale(1.2,1)" rx="17.917" ry="17.3" fill="#fff" stroke="#000" stroke-width="3.9"/><text transform="translate(546.3000000000001,234.8) scale(1.12,1)" text-anchor="middle" font-family="Liberation Sans" font-weight="normal" font-size="21.7" fill="#2b2b2b" stroke="#2b2b2b" stroke-width="0.8">43</text><text transform="translate(546.7,237.3) scale(1.12,1)" text-anchor="middle" font-family="Liberation Sans" font-weight="normal" font-size="21.7" fill="#2b2b2b" stroke="#2b2b2b" stroke-width="0.8">46</text><ellipse transform="translate(547.5,259.2) scale(1.2,1)" rx="17.917" ry="17.3" fill="#fff" stroke="#000" stroke-width="3.9"/><text transform="translate(547.2,267.5) scale(1.12,1)" text-anchor="middle" font-family="Liberation Sans" font-weight="normal" font-size="21.7" fill="#2b2b2b" stroke="#2b2b2b" stroke-width="0.8">18</text><ellipse transform="translate(534.7,177.9) scale(1.2,1)" rx="17.917" ry="17.3" fill="#fff" stroke="#000" stroke-width="3.9"/><text transform="translate(534.4000000000001,186.20000000000002) scale(1.12,1)" text-anchor="middle" font-family="Liberation Sans" font-weight="normal" font-size="21.7" fill="#2b2b2b" stroke="#2b2b2b" stroke-width="0.8">25</text><ellipse transform="translate(534.4,444.4) scale(1.2,1)" rx="17.917" ry="17.3" fill="#fff" stroke="#000" stroke-width="3.9"/><text transform="translate(534.1,452.7) scale(1.12,1)" text-anchor="middle" font-family="Liberation Sans" font-weight="normal" font-size="21.7" fill="#2b2b2b" stroke="#2b2b2b" stroke-width="0.8">14</text><ellipse transform="translate(528.9,334.8) scale(1.2,1)" rx="17.917" ry="17.3" fill="#fff" stroke="#000" stroke-width="3.9"/><text transform="translate(528.6,343.1) scale(1.12,1)" text-anchor="middle" font-family="Liberation Sans" font-weight="normal" font-size="21.7" fill="#2b2b2b" stroke="#2b2b2b" stroke-width="0.8">40</text><ellipse transform="translate(500.5,375.7) scale(1.2,1)" rx="17.917" ry="17.3" fill="#fff" stroke="#000" stroke-width="3.9"/><text transform="translate(500.2,384.0) scale(1.12,1)" text-anchor="middle" font-family="Liberation Sans" font-weight="normal" font-size="21.7" fill="#2b2b2b" stroke="#2b2b2b" stroke-width="0.8">48</text><ellipse transform="translate(487.5,195) scale(1.2,1)" rx="17.917" ry="17.3" fill="#fff" stroke="#000" stroke-width="3.9"/><text transform="translate(487.2,203.3) scale(1.12,1)" text-anchor="middle" font-family="Liberation Sans" font-weight="normal" font-size="21.7" fill="#2b2b2b" stroke="#2b2b2b" stroke-width="0.8">41</text><ellipse transform="translate(477.6,381.8) scale(1.2,1)" rx="17.917" ry="17.3" fill="#fff" stroke="#000" stroke-width="3.9"/><text transform="translate(477.3,390.1) scale(1.12,1)" text-anchor="middle" font-family="Liberation Sans" font-weight="normal" font-size="21.7" fill="#2b2b2b" stroke="#2b2b2b" stroke-width="0.8">50</text><ellipse transform="translate(472.9,361.5) scale(1.2,1)" rx="17.917" ry="17.3" fill="#fff" stroke="#000" stroke-width="3.9"/><ellipse transform="translate(463,370.2) scale(1.2,1)" rx="17.917" ry="17.3" fill="#fff" stroke="#000" stroke-width="3.9"/><text transform="translate(472.59999999999997,369.8) scale(1.12,1)" text-anchor="middle" font-family="Liberation Sans" font-weight="normal" font-size="21.7" fill="#2b2b2b" stroke="#2b2b2b" stroke-width="0.8">52</text><text transform="translate(462.7,378.5) scale(1.12,1)" text-anchor="middle" font-family="Liberation Sans" font-weight="normal" font-size="21.7" fill="#2b2b2b" stroke="#2b2b2b" stroke-width="0.8">4</text><ellipse transform="translate(464.1,450.6) scale(1.2,1)" rx="17.917" ry="17.3" fill="#fff" stroke="#000" stroke-width="3.9"/><text transform="translate(463.8,458.90000000000003) scale(1.12,1)" text-anchor="middle" font-family="Liberation Sans" font-weight="normal" font-size="21.7" fill="#2b2b2b" stroke="#2b2b2b" stroke-width="0.8">17</text><ellipse transform="translate(449.3,217.2) scale(1.2,1)" rx="17.917" ry="17.3" fill="#fff" stroke="#000" stroke-width="3.9"/><text transform="translate(449.0,225.5) scale(1.12,1)" text-anchor="middle" font-family="Liberation Sans" font-weight="normal" font-size="21.7" fill="#2b2b2b" stroke="#2b2b2b" stroke-width="0.8">53</text><ellipse transform="translate(434,192.8) scale(1.2,1)" rx="17.917" ry="17.3" fill="#fff" stroke="#000" stroke-width="3.9"/><text transform="translate(433.7,201.10000000000002) scale(1.12,1)" text-anchor="middle" font-family="Liberation Sans" font-weight="normal" font-size="21.7" fill="#2b2b2b" stroke="#2b2b2b" stroke-width="0.8">51</text><ellipse transform="translate(430,296) scale(1.2,1)" rx="17.917" ry="17.3" fill="#fff" stroke="#000" stroke-width="3.9"/><text transform="translate(429.7,304.3) scale(1.12,1)" text-anchor="middle" font-family="Liberation Sans" font-weight="normal" font-size="21.7" fill="#2b2b2b" stroke="#2b2b2b" stroke-width="0.8">44</text><ellipse transform="translate(417,593) scale(1.2,1)" rx="17.917" ry="17.3" fill="#fff" stroke="#000" stroke-width="3.9"/><text transform="translate(416.7,601.3) scale(1.12,1)" text-anchor="middle" font-family="Liberation Sans" font-weight="normal" font-size="21.7" fill="#2b2b2b" stroke="#2b2b2b" stroke-width="0.8">35</text><ellipse transform="translate(411.7,274.4) scale(1.2,1)" rx="17.917" ry="17.3" fill="#fff" stroke="#000" stroke-width="3.9"/><text transform="translate(411.4,282.7) scale(1.12,1)" text-anchor="middle" font-family="Liberation Sans" font-weight="normal" font-size="21.7" fill="#2b2b2b" stroke="#2b2b2b" stroke-width="0.8">39</text><ellipse transform="translate(404.6,518.3) scale(1.2,1)" rx="17.917" ry="17.3" fill="#fff" stroke="#000" stroke-width="3.9"/><text transform="translate(404.3,526.5999999999999) scale(1.12,1)" text-anchor="middle" font-family="Liberation Sans" font-weight="normal" font-size="21.7" fill="#2b2b2b" stroke="#2b2b2b" stroke-width="0.8">6</text><ellipse transform="translate(402.4,401.7) scale(1.2,1)" rx="17.917" ry="17.3" fill="#fff" stroke="#000" stroke-width="3.9"/><text transform="translate(402.09999999999997,410.0) scale(1.12,1)" text-anchor="middle" font-family="Liberation Sans" font-weight="normal" font-size="21.7" fill="#2b2b2b" stroke="#2b2b2b" stroke-width="0.8">45</text><ellipse transform="translate(397.1,217.5) scale(1.2,1)" rx="17.917" ry="17.3" fill="#fff" stroke="#000" stroke-width="3.9"/><text transform="translate(396.8,225.8) scale(1.12,1)" text-anchor="middle" font-family="Liberation Sans" font-weight="normal" font-size="21.7" fill="#2b2b2b" stroke="#2b2b2b" stroke-width="0.8">47</text><ellipse transform="translate(360.6,359.5) scale(1.2,1)" rx="17.917" ry="17.3" fill="#fff" stroke="#000" stroke-width="3.9"/><text transform="translate(360.3,367.8) scale(1.12,1)" text-anchor="middle" font-family="Liberation Sans" font-weight="normal" font-size="21.7" fill="#2b2b2b" stroke="#2b2b2b" stroke-width="0.8">23</text><ellipse transform="translate(359.1,298.9) scale(1.2,1)" rx="17.917" ry="17.3" fill="#fff" stroke="#000" stroke-width="3.9"/><text transform="translate(358.8,307.2) scale(1.12,1)" text-anchor="middle" font-family="Liberation Sans" font-weight="normal" font-size="21.7" fill="#2b2b2b" stroke="#2b2b2b" stroke-width="0.8">9</text><ellipse transform="translate(353.2,713.5) scale(1.2,1)" rx="17.917" ry="17.3" fill="#fff" stroke="#000" stroke-width="3.9"/><text transform="translate(352.9,721.8) scale(1.12,1)" text-anchor="middle" font-family="Liberation Sans" font-weight="normal" font-size="21.7" fill="#2b2b2b" stroke="#2b2b2b" stroke-width="0.8">30</text><ellipse transform="translate(348.6,845.6) scale(1.2,1)" rx="17.917" ry="17.3" fill="#fff" stroke="#000" stroke-width="3.9"/><text transform="translate(348.3,853.9) scale(1.12,1)" text-anchor="middle" font-family="Liberation Sans" font-weight="normal" font-size="21.7" fill="#2b2b2b" stroke="#2b2b2b" stroke-width="0.8">27</text><ellipse transform="translate(339.9,202.5) scale(1.2,1)" rx="17.917" ry="17.3" fill="#fff" stroke="#000" stroke-width="3.9"/><text transform="translate(339.59999999999997,210.8) scale(1.12,1)" text-anchor="middle" font-family="Liberation Sans" font-weight="normal" font-size="21.7" fill="#2b2b2b" stroke="#2b2b2b" stroke-width="0.8">10</text><ellipse transform="translate(335.7,275.9) scale(1.2,1)" rx="17.917" ry="17.3" fill="#fff" stroke="#000" stroke-width="3.9"/><text transform="translate(335.4,284.2) scale(1.12,1)" text-anchor="middle" font-family="Liberation Sans" font-weight="normal" font-size="21.7" fill="#2b2b2b" stroke="#2b2b2b" stroke-width="0.8">11</text><ellipse transform="translate(319.1,186) scale(1.2,1)" rx="17.917" ry="17.3" fill="#fff" stroke="#000" stroke-width="3.9"/><text transform="translate(318.8,194.3) scale(1.12,1)" text-anchor="middle" font-family="Liberation Sans" font-weight="normal" font-size="21.7" fill="#2b2b2b" stroke="#2b2b2b" stroke-width="0.8">49</text><ellipse transform="translate(270.3,448.6) scale(1.2,1)" rx="17.917" ry="17.3" fill="#fff" stroke="#000" stroke-width="3.9"/><text transform="translate(270.0,456.90000000000003) scale(1.12,1)" text-anchor="middle" font-family="Liberation Sans" font-weight="normal" font-size="21.7" fill="#2b2b2b" stroke="#2b2b2b" stroke-width="0.8">7</text><ellipse transform="translate(261.5,390.3) scale(1.2,1)" rx="17.917" ry="17.3" fill="#fff" stroke="#000" stroke-width="3.9"/><text transform="translate(261.2,398.6) scale(1.12,1)" text-anchor="middle" font-family="Liberation Sans" font-weight="normal" font-size="21.7" fill="#2b2b2b" stroke="#2b2b2b" stroke-width="0.8">29</text><ellipse transform="translate(259.8,278.4) scale(1.2,1)" rx="17.917" ry="17.3" fill="#fff" stroke="#000" stroke-width="3.9"/><text transform="translate(259.5,286.7) scale(1.12,1)" text-anchor="middle" font-family="Liberation Sans" font-weight="normal" font-size="21.7" fill="#2b2b2b" stroke="#2b2b2b" stroke-width="0.8">12</text><ellipse transform="translate(256.7,182.9) scale(1.2,1)" rx="17.917" ry="17.3" fill="#fff" stroke="#000" stroke-width="3.9"/><text transform="translate(256.4,191.20000000000002) scale(1.12,1)" text-anchor="middle" font-family="Liberation Sans" font-weight="normal" font-size="21.7" fill="#2b2b2b" stroke="#2b2b2b" stroke-width="0.8">19</text><ellipse transform="translate(238.4,516.9) scale(1.2,1)" rx="17.917" ry="17.3" fill="#fff" stroke="#000" stroke-width="3.9"/><text transform="translate(238.1,525.1999999999999) scale(1.12,1)" text-anchor="middle" font-family="Liberation Sans" font-weight="normal" font-size="21.7" fill="#2b2b2b" stroke="#2b2b2b" stroke-width="0.8">1</text><ellipse transform="translate(229.7,200.2) scale(1.2,1)" rx="17.917" ry="17.3" fill="#fff" stroke="#000" stroke-width="3.9"/><text transform="translate(229.39999999999998,208.5) scale(1.12,1)" text-anchor="middle" font-family="Liberation Sans" font-weight="normal" font-size="21.7" fill="#2b2b2b" stroke="#2b2b2b" stroke-width="0.8">2</text><ellipse transform="translate(224.6,627) scale(1.2,1)" rx="17.917" ry="17.3" fill="#fff" stroke="#000" stroke-width="3.9"/><text transform="translate(224.29999999999998,635.3) scale(1.12,1)" text-anchor="middle" font-family="Liberation Sans" font-weight="normal" font-size="21.7" fill="#2b2b2b" stroke="#2b2b2b" stroke-width="0.8">16</text><ellipse transform="translate(183.3,121) scale(1.2,1)" rx="17.917" ry="17.3" fill="#fff" stroke="#000" stroke-width="3.9"/><text transform="translate(183.0,129.3) scale(1.12,1)" text-anchor="middle" font-family="Liberation Sans" font-weight="normal" font-size="21.7" fill="#2b2b2b" stroke="#2b2b2b" stroke-width="0.8">3</text><ellipse transform="translate(182.6,197.9) scale(1.2,1)" rx="17.917" ry="17.3" fill="#fff" stroke="#000" stroke-width="3.9"/><text transform="translate(182.29999999999998,206.20000000000002) scale(1.12,1)" text-anchor="middle" font-family="Liberation Sans" font-weight="normal" font-size="21.7" fill="#2b2b2b" stroke="#2b2b2b" stroke-width="0.8">5</text>
<path d="M464.0,308.6 L488,288.6 L512.0,308.6 L488,328.6 Z" fill="#8f303b"/>
<path d="M183.56,1273.98 L183.56,1273.97 L183.56,1273.97 L183.56,1273.96 L183.56,1273.95 L183.56,1273.94 L183.56,1273.93 L183.56,1273.91 L183.56,1273.89 L183.56,1273.86 L183.56,1273.83 L183.56,1273.79 L183.56,1273.73 L183.56,1273.67 L183.56,1273.59 L183.56,1273.50 L183.56,1273.38 L183.56,1273.23 L183.56,1273.05 L183.56,1272.83 L183.56,1272.55 L183.56,1272.21 L183.56,1271.78 L183.56,1271.26 L183.56,1270.61 L183.56,1269.81 L183.56,1268.83 L183.56,1267.61 L183.57,1266.11 L183.57,1264.26 L183.57,1261.98 L183.58,1259.17 L183.59,1255.71 L183.60,1251.47 L183.62,1246.27 L183.64,1239.90 L183.68,1232.12 L183.72,1222.65 L183.79,1211.16 L183.89,1197.28 L184.03,1180.60 L184.04,1179.78 L184.05,1178.96 L184.05,1178.14 L184.06,1177.30 L184.07,1176.46 L184.08,1175.62 L184.08,1174.77 L184.09,1173.91 L184.10,1173.04 L184.11,1172.17 L184.12,1171.29 L184.13,1170.40 L184.14,1169.51 L184.15,1168.61 L184.15,1167.70 L184.16,1166.78 L184.17,1165.86 L184.18,1164.93 L184.19,1164.00 L184.20,1163.06 L184.21,1162.11 L184.22,1161.15 L184.23,1160.18 L184.24,1159.21 L184.25,1158.23 L184.27,1157.25 L184.28,1156.25 L184.29,1155.25 L184.30,1154.24 L184.31,1153.22 L184.32,1152.20 L184.33,1151.17 L184.35,1150.13 L184.36,1149.08 L184.37,1148.02 L184.38,1146.96 L184.40,1145.89 L184.41,1144.81 L184.42,1143.72 L184.44,1142.63 L184.45,1141.53 L184.46,1140.42 L184.48,1139.30 L184.49,1138.17 L184.51,1137.03 L184.52,1135.89 L184.54,1134.74 L184.55,1133.58 L184.57,1132.41 L184.58,1131.23 L184.60,1130.05 L184.62,1128.86 L184.63,1127.65 L184.65,1126.44 L184.67,1125.23 L184.68,1124.00 L184.70,1122.76 L184.72,1121.52 L184.74,1120.26 L184.76,1119.00 L184.77,1117.73 L184.79,1116.45 L184.81,1115.16 L184.83,1113.87 L184.85,1112.56 L184.87,1111.25 L184.89,1109.92 L184.91,1108.59 L184.94,1107.25 L184.96,1105.90 L184.98,1104.54 L185.00,1103.17 L185.02,1101.79 L185.05,1100.40 L185.07,1099.00 L185.09,1097.60 L185.12,1096.18 L185.14,1094.76 L185.17,1093.33 L185.19,1091.88 L185.22,1090.43 L185.24,1088.97 L185.27,1087.50 L185.30,1086.02 L185.32,1084.53 L185.35,1083.03 L185.38,1081.52 L185.41,1080.00 L185.44,1078.48 L185.47,1076.94 L185.50,1075.39 L185.53,1073.83 L185.56,1072.27 L185.59,1070.69 L185.62,1069.11 L185.65,1067.51 L185.69,1065.91 L185.72,1064.29 L185.75,1062.67 L185.79,1061.03 L185.82,1059.39 L185.86,1057.74 L185.89,1056.07 L185.93,1054.40 L185.97,1052.72 L186.00,1051.03 L186.04,1049.32 L186.08,1047.61 L186.12,1045.89 L186.16,1044.16 L186.20,1042.41 L186.24,1040.66 L186.29,1038.90 L186.33,1037.13 L186.37,1035.35 L186.42,1033.56 L186.46,1031.76 L186.51,1029.95 L186.55,1028.12 L186.60,1026.29 L186.65,1024.45 L186.69,1022.60 L186.74,1020.74 L186.79,1018.87 L186.84,1016.99 L186.89,1015.10 L186.95,1013.20 L187.00,1011.29 L187.05,1009.37 L187.11,1007.44 L187.16,1005.51 L187.22,1003.56 L187.28,1001.60 L187.34,999.63 L187.39,997.65 L187.45,995.66 L187.51,993.67 L187.58,991.66 L187.64,989.64 L187.70,987.61 L187.77,985.58 L187.83,983.53 L187.90,981.48 L187.97,979.41 L188.04,977.34 L188.11,975.25 L188.18,973.16 L188.25,971.06 L188.32,968.94 L188.40,966.82 L188.47,964.69 L188.55,962.55 L188.63,960.40 L188.71,958.24 L188.79,956.07 L188.87,953.89 L188.95,951.71 L189.04,949.51 L189.12,947.31 L189.21,945.09 L189.30,942.87 L189.39,940.64 L189.48,938.40 L189.57,936.15 L189.66,933.89 L189.76,931.62 L189.86,929.35 L189.95,927.06 L190.05,924.77 L190.16,922.47 L190.26,920.16 L190.36,917.84 L190.47,915.51 L190.58,913.17 L190.69,910.83 L190.80,908.48 L190.91,906.12 L191.03,903.75 L191.14,901.38 L191.26,898.99 L191.38,896.60 L191.50,894.20 L191.63,891.79 L191.75,889.38 L191.88,886.96 L192.01,884.53 L192.14,882.09 L192.27,879.64 L192.41,877.19 L192.55,874.73 L192.69,872.27 L192.83,869.79 L192.97,867.31 L193.12,864.82 L193.27,862.33 L193.42,859.83 L193.57,857.32 L193.73,854.81 L193.89,852.29 L194.05,849.76 L194.21,847.23 L194.38,844.69 L194.55,842.14 L194.72,839.59 L194.89,837.03 L195.07,834.47 L195.25,831.90 L195.43,829.33 L195.61,826.74 L195.80,824.16 L195.99,821.57 L196.18,818.97 L196.38,816.37 L196.58,813.76 L196.78,811.15 L196.98,808.54 L197.19,805.91 L197.40,803.29 L197.62,800.66 L197.84,798.02 L198.06,795.38 L198.28,792.74 L198.51,790.09 L198.74,787.44 L198.98,784.79 L199.22,782.13 L199.46,779.47 L199.71,776.80 L199.96,774.13 L200.21,771.46 L200.47,768.78 L200.73,766.10 L201.00,763.42 L201.27,760.73 L201.54,758.05 L201.82,755.36 L202.10,752.66 L202.39,749.97 L202.68,747.27 L202.98,744.57 L203.28,741.87 L203.58,739.16 L203.89,736.46 L204.20,733.75 L204.52,731.04 L204.85,728.33 L205.17,725.62 L205.51,722.90 L205.85,720.19 L206.19,717.47 L206.54,714.76 L206.89,712.04 L207.25,709.32 L207.62,706.61 L207.99,703.89 L208.37,701.17 L208.75,698.45 L209.14,695.73 L209.53,693.01 L209.93,690.29 L210.33,687.58 L210.75,684.86 L211.16,682.14 L211.59,679.42 L212.02,676.71 L212.45,673.99 L212.90,671.28 L213.35,668.57 L213.81,665.86 L214.27,663.15 L214.74,660.44 L215.22,657.73 L215.70,655.03 L216.19,652.33 L216.69,649.62 L217.20,646.93 L217.72,644.23 L218.24,641.54 L218.77,638.84 L219.31,636.16 L219.85,633.47 L220.41,630.79 L220.97,628.11 L221.54,625.43 L222.12,622.75 L222.71,620.08 L223.30,617.42 L223.91,614.75 L224.52,612.09 L225.14,609.44 L225.78,606.78 L226.42,604.13 L227.07,601.49 L227.73,598.85 L228.40,596.21 L229.08,593.58 L229.77,590.95 L230.47,588.33 L231.18,585.71 L231.90,583.10 L232.63,580.49 L233.38,577.89 L234.13,575.29 L234.89,572.70 L235.67,570.11 L236.45,567.53 L237.25,564.95 L238.06,562.38 L238.88,559.82 L239.71,557.26 L240.56,554.70 L241.41,552.15 L242.28,549.61 L243.16,547.08 L244.06,544.55 L244.97,542.03 L245.89,539.51 L246.82,537.00 L247.76,534.50 L248.72,532.00 L249.70,529.51 L250.69,527.03 L251.69,524.55 L252.70,522.08 L253.73,519.62 L254.78,517.17 L255.83,514.72 L256.91,512.28 L258.00,509.85 L259.10,507.42 L260.22,505.01 L261.36,502.60 L262.51,500.19 L263.67,497.80 L264.86,495.41 L266.06,493.03 L267.27,490.66 L268.51,488.30 L269.76,485.95 L271.02,483.60 L272.31,481.26 L273.61,478.93 L274.93,476.61 L276.27,474.30 L277.62,471.99 L279.00,469.70 L280.39,467.41 L281.80,465.13 L283.23,462.86 L284.68,460.60 L286.15,458.35 L287.64,456.10 L289.15,453.87 L290.68,451.64 L292.23,449.43 L293.80,447.22 L295.39,445.02 L297.00,442.83 L298.63,440.65 L300.29,438.48 L301.96,436.31 L303.66,434.16 L305.38,432.02 L307.12,429.88 L308.89,427.76 L310.67,425.64 L312.48,423.54 L314.32,421.44 L316.17,419.35 L318.05,417.27 L319.95,415.21 L321.88,413.15 L323.83,411.10 L325.81,409.06 L327.81,407.03 L329.84,405.01 L331.89,403.00 L333.96,401.00 L336.07,399.01 L338.19,397.02 L340.35,395.05 L342.53,393.09 L344.73,391.14 L346.96,389.20 L349.22,387.26 L351.51,385.34 L353.82,383.43 L356.16,381.53 L358.53,379.63 L360.93,377.75 L363.35,375.88 L365.81,374.01 L368.29,372.16 L370.80,370.31 L373.34,368.48 L375.90,366.66 L378.50,364.84 L381.13,363.04 L383.78,361.24 L386.47,359.46 L389.18,357.68 L391.93,355.92 L394.70,354.16 L397.51,352.42 L400.34,350.68 L403.21,348.96 L406.11,347.24 L409.04,345.54 L411.99,343.84 L414.99,342.16 L418.01,340.48 L421.06,338.81 L424.15,337.16 L427.26,335.51 L430.41,333.87 L433.59,332.24 L436.80,330.63 L440.05,329.02 L443.33,327.42 L446.63,325.83 L449.98,324.25 L453.35,322.68 L456.76,321.12 L460.19,319.57 L463.67,318.03 L467.17,316.50 L470.71,314.98 L474.28,313.47 L477.88,311.97 L481.51,310.47 L485.18,308.99 L488.88,307.52 L492.61,306.05 L496.38,304.60 L500.17,303.15 L504.00,301.71 L507.87,300.29 L511.76,298.87 L515.69,297.46 L519.65,296.06 L523.64,294.67 L527.67,293.29 L531.72,291.92 L535.81,290.55 L539.93,289.20 L544.08,287.85 L548.27,286.52 L552.48,285.19 L556.73,283.87 L561.00,282.56 L565.31,281.26 L569.65,279.97 L574.02,278.69 L578.42,277.42 L582.85,276.15 L587.31,274.90 L591.79,273.65 L596.31,272.41 L600.86,271.18 L605.43,269.96 L610.04,268.74 L614.67,267.54 L619.33,266.34 L624.02,265.16 L628.73,263.98 L633.47,262.81 L638.24,261.64 L643.04,260.49 L647.86,259.34 L652.70,258.21 L657.57,257.08 L662.47,255.95 L667.39,254.84 L672.33,253.73 L677.30,252.64 L682.29,251.55 L687.30,250.47 L692.33,249.39 L697.39,248.33 L702.47,247.27 L707.57,246.22 L712.68,245.18 L717.82,244.14 L722.98,243.12 L728.15,242.10 L733.34,241.08 L738.56,240.08 L743.78,239.08 L749.03,238.09 L754.29,237.11 L759.56,236.14 L764.85,235.17 L770.16,234.21 L775.47,233.26 L780.80,232.31 L786.15,231.37 L791.50,230.44 L796.87,229.52 L802.24,228.60 L807.63,227.69 L813.03,226.79 L818.43,225.89 L823.84,225.01 L829.26,224.12 L834.69,223.25 L840.12,222.38 L845.56,221.52 L851.00,220.66 L856.45,219.82 L861.90,218.97 L867.35,218.14 L872.81,217.31 L878.26,216.49 L883.72,215.67 L889.18,214.86 L894.64,214.06 L900.09,213.26 L905.55,212.47 L911.00,211.69 L916.45,210.91 L921.89,210.14 L927.33,209.37 L932.77,208.62 L938.20,207.86 L943.62,207.12 L949.04,206.37 L954.45,205.64 L959.85,204.91 L965.24,204.19 L970.62,203.47 L975.99,202.76 L981.35,202.05 L986.70,201.35 L992.04,200.66 L997.37,199.97 L1002.68,199.28 L1007.98,198.61 L1013.26,197.93 L1018.53,197.27 L1023.78,196.60 L1029.02,195.95 L1034.24,195.30 L1039.44,194.65 L1044.63,194.01 L1049.80,193.38 L1054.94,192.75 L1060.07,192.12 L1065.18,191.51 L1070.27,190.89 L1075.34,190.28 L1080.39,189.68 L1085.41,189.08 L1090.41,188.49 L1095.39,187.90 L1100.35,187.31 L1105.28,186.73 L1110.19,186.16 L1115.08,185.59 L1119.94,185.02 L1124.77,184.46 L1129.58,183.91 L1134.36,183.36 L1139.12,182.81 L1143.85,182.27 L1148.56,181.73 L1153.23,181.20 L1157.88,180.67 L1162.50,180.15 L1167.09,179.63 L1171.65,179.12 L1176.19,178.61 L1180.69,178.10 L1185.17,177.60 L1189.62,177.10 L1194.03,176.61 L1198.42,176.12 L1202.77,175.63 L1207.10,175.15 L1211.39,174.68 L1215.66,174.20 L1219.89,173.74 L1224.09,173.27 L1228.26,172.81 L1232.40,172.35 L1236.51,171.90 L1240.58,171.45 L1244.62,171.01 L1248.63,170.57 L1252.61,170.13 L1256.56,169.70 L1260.47,169.27 L1264.35,168.84 L1268.20,168.42 L1272.02,168.00 L1275.80,167.58 L1279.55,167.17 L1283.27,166.76 L1286.96,166.36 L1290.61,165.96 L1294.23,165.56 L1297.82,165.17 L1301.37,164.78 L1304.90,164.39 L1308.39,164.01 L1311.84,163.63 L1315.27,163.25 L1318.66,162.87 L1322.02,162.50 L1325.35,162.14 L1328.64,161.77 L1331.91,161.41 L1335.14,161.05 L1338.34,160.70 L1341.50,160.35 L1344.64,160.00 L1347.74,159.65 L1350.81,159.31 L1353.85,158.97 L1356.86,158.64 L1359.84,158.30 L1362.78,157.97 L1365.70,157.64 L1368.58,157.32 L1371.44,157.00 L1374.26,156.68 L1377.05,156.36 L1379.81,156.05 L1382.55,155.74 L1385.25,155.43 L1387.92,155.13 L1390.56,154.82 L1393.18,154.52 L1395.76,154.23 L1398.32,153.93 L1400.84,153.64 L1403.34,153.35 L1405.81,153.07 L1408.25,152.78 L1410.66,152.50 L1413.05,152.22 L1415.40,151.94 L1417.73,151.67 L1420.03,151.40 L1422.31,151.13 L1424.56,150.86 L1426.78,150.60 L1428.97,150.34 L1431.14,150.08 L1433.28,149.82 L1435.40,149.56 L1437.49,149.31 L1439.55,149.06 L1441.59,148.81 L1443.61,148.57 L1445.60,148.32 L1447.57,148.08 L1449.51,147.84 L1451.42,147.60 L1453.32,147.37 L1455.19,147.13 L1457.03,146.90 L1458.86,146.67 L1460.66,146.45 L1462.43,146.22 L1464.19,146.00 L1465.92,145.78 L1467.63,145.56 L1469.32,145.34 L1470.98,145.13 L1472.63,144.92 L1474.25,144.70 L1475.85,144.49 L1477.44,144.29 L1479.00,144.08 L1480.54,143.88 L1482.06,143.68 L1483.56,143.48 L1485.04,143.28 L1486.50,143.08 L1487.94,142.89 L1489.36,142.70 L1490.77,142.50 L1492.15,142.32 L1493.52,142.13 L1494.87,141.94 L1496.20,141.76 L1497.51,141.58 L1498.80,141.39 L1500.08,141.22 L1501.34,141.04 L1502.58,140.86 L1503.81,140.69 L1505.02,140.51 L1506.21,140.34 L1507.39,140.17 L1508.55,140.01 L1509.69,139.84 L1510.82,139.67 L1511.93,139.51 L1513.03,139.35 L1514.11,139.19 L1515.18,139.03 L1516.23,138.87 L1517.27,138.71 L1518.30,138.56 L1519.30,138.41 L1520.30,138.25 L1521.28,138.10 L1522.25,137.95 L1523.20,137.81 L1524.14,137.66 L1525.07,137.52 L1525.98,137.37 L1526.89,137.23 L1527.78,137.09 L1528.65,136.95 L1529.51,136.81 L1530.37,136.67 L1531.21,136.54 L1532.03,136.40 L1532.85,136.27 L1533.65,136.13 L1534.45,136.00 L1535.23,135.87 L1536.00,135.74 L1536.76,135.62 L1537.50,135.49 L1538.24,135.37 L1538.97,135.24 L1539.68,135.12 L1540.39,135.00 L1541.09,134.88 L1541.77,134.76 L1542.45,134.64 L1543.11,134.52 L1543.77,134.40 L1544.42,134.29 L1545.06,134.17 L1545.68,134.06 L1546.30,133.95 L1546.91,133.84 L1547.51,133.73 L1548.11,133.62 L1548.69,133.51 L1549.27,133.40 L1549.83,133.30 L1550.39,133.19 L1550.94,133.09 L1551.49,132.98 L1552.02,132.88 L1552.55,132.78 L1553.07,132.68 L1553.58,132.58 L1554.08,132.48 L1554.58,132.39 L1555.07,132.29 L1555.55,132.19 L1556.02,132.10 L1556.49,132.00 L1556.95,131.91 L1557.41,131.82 L1557.85,131.73 L1558.29,131.64 L1558.73,131.55 L1559.16,131.46 L1559.58,131.37 L1559.99,131.28 L1560.40,131.20 L1560.80,131.11 L1561.20,131.02 L1561.59,130.94 L1561.98,130.86 L1562.36,130.77 L1562.73,130.69 L1563.10,130.61 L1563.46,130.53 L1563.82,130.45 L1564.17,130.37 L1564.52,130.29 L1564.86,130.22 L1565.20,130.14 L1565.53,130.06 L1565.85,129.99 L1566.17,129.92 L1566.49,129.84 L1566.80,129.77 L1567.11,129.70 L1567.41,129.62 L1567.71,129.55 L1568.01,129.48 L1568.29,129.41 L1568.58,129.34 L1568.86,129.27 L1569.14,129.21 L1569.41,129.14 L1569.68,129.07 L1569.94,129.01 L1570.20,128.94 L1570.46,128.88 L1570.71,128.81 L1570.96,128.75 L1571.20,128.69 L1571.44,128.62 L1571.68,128.56 L1571.92,128.50 L1572.15,128.44 L1572.37,128.38 L1572.60,128.32 L1572.82,128.26 L1573.03,128.20 L1573.25,128.14 L1573.46,128.09 L1573.66,128.03 L1573.87,127.97 L1574.07,127.92 L1574.27,127.86 L1574.46,127.81 L1574.65,127.75 L1574.84,127.70 L1575.03,127.65 L1575.21,127.59 L1575.39,127.54 L1575.57,127.49 L1575.74,127.44 L1575.92,127.39 L1576.09,127.34 L1576.25,127.29 L1576.42,127.24 L1576.58,127.19 L1576.74,127.14 L1576.90,127.09 L1577.05,127.04 L1577.20,127.00 L1577.35,126.95 L1577.50,126.90 L1577.65,126.86 L1577.79,126.81 L1577.93,126.77 L1578.07,126.72 L1578.21,126.68 L1578.34,126.63 L1578.48,126.59 L1578.61,126.55 L1578.74,126.51 L1578.86,126.46 L1578.99,126.42 L1579.11,126.38 L1579.23,126.34 L1579.35,126.30 L1579.47,126.26 L1579.58,126.22 L1579.70,126.18 L1579.81,126.14 L1579.92,126.10 L1580.03,126.06 L1580.14,126.02 L1580.24,125.99 L1580.35,125.95 L1580.45,125.91 L1580.55,125.88 L1580.65,125.84 L1580.75,125.80 L1580.84,125.77 L1580.94,125.73 L1581.03,125.70 L1581.12,125.66 L1581.21,125.63 L1581.30,125.60 L1581.39,125.56 L1581.47,125.53 L1581.56,125.49 L1581.64,125.46 L1581.73,125.43 L1581.81,125.40 L1581.89,125.37 L1581.96,125.33 L1582.04,125.30 L1582.12,125.27 L1582.19,125.24 L1582.27,125.21 L1582.34,125.18 L1582.41,125.15 L1582.48,125.12 L1582.55,125.09 L1582.62,125.06 L1582.69,125.03 L1582.75,125.01 L1582.82,124.98 L1582.88,124.95 L1582.95,124.92 L1583.01,124.90 L1583.07,124.87 L1583.13,124.84 L1583.19,124.81 L1583.25,124.79 L1583.31,124.76 L1583.36,124.74 L1583.42,124.71 L1583.48,124.69 L1583.53,124.66 L1584.70,124.07 L1585.47,123.62 L1585.98,123.26 L1586.33,122.98 L1586.55,122.77 L1586.70,122.60 L1586.80,122.47 L1586.87,122.36 L1586.91,122.28 L1586.94,122.22 L1586.96,122.17 L1586.97,122.13 L1586.98,122.10 L1586.99,122.08 L1586.99,122.06 L1587.00,122.05 L1587.00,122.04 L1587.00,122.03 L1587.00,122.02 L1587.00,122.02 L1587.00,122.01 L1587.00,122.01 L1587.00,122.01 L1587.00,122.01 L1587.00,122.01 L1587.00,122.00 L1587.00,122.00 L1587.00,122.00 L1587.00,122.00 L1587.00,122.00 L1587.00,122.00 L1587.00,122.00 L1587.00,122.00 L1587.00,122.00 L1587.00,122.00 L1587.00,122.00 L1587.00,122.00 L1587.00,122.00 L1587.00,122.00" fill="none" stroke="#000" stroke-width="3.7" stroke-linejoin="round"/>
<g stroke="#111" stroke-width="3.3" fill="none" stroke-linecap="butt">
<path d="M176.9,122 L176.9,1274"/>
<path d="M152,122 L176.9,122 M152,698 L176.9,698 M152,1274 L176.9,1274"/>
<path d="M184,1274 L1587.5,1274"/>
<path d="M184,1274 L184,1295 M885,1274 L885,1295 M1587.5,1274 L1587.5,1295"/>
</g>
<text transform="translate(412.26,57.40) scale(0.8358,1)" font-family="Liberation Sans" font-weight="normal" font-size="51.23" fill="#000" stroke="#000" stroke-width="0.4">SROC</text><text transform="translate(550.00,57.40) scale(0.9828,1)" font-family="Liberation Sans" font-weight="normal" font-size="51.23" fill="#000" stroke="#000" stroke-width="0.4">with</text><text transform="translate(654.16,57.40) scale(0.9597,1)" font-family="Liberation Sans" font-weight="normal" font-size="51.23" fill="#000" stroke="#000" stroke-width="0.4">prediction</text><text transform="translate(879.52,57.40) scale(1.0655,1)" font-family="Liberation Sans" font-weight="normal" font-size="51.23" fill="#000" stroke="#000" stroke-width="0.4">&amp;</text><text transform="translate(928.69,57.40) scale(0.9320,1)" font-family="Liberation Sans" font-weight="normal" font-size="51.23" fill="#000" stroke="#000" stroke-width="0.4">confidence</text><text transform="translate(1173.06,57.40) scale(0.9489,1)" font-family="Liberation Sans" font-weight="normal" font-size="51.23" fill="#000" stroke="#000" stroke-width="0.4">contours</text><text transform="translate(776.92,1425.90) scale(0.9511,1)" font-family="Liberation Sans" font-weight="normal" font-size="50.14" fill="#000" stroke="#000" stroke-width="0.4">Specificity</text><text transform="translate(65.95,141.20) scale(0.9201,1)" font-family="Liberation Sans" font-weight="normal" font-size="52.29" fill="#000" stroke="#000" stroke-width="0.4">1.0</text><text transform="translate(64.96,716.00) scale(0.9185,1)" font-family="Liberation Sans" font-weight="normal" font-size="52.86" fill="#000" stroke="#000" stroke-width="0.4">0.5</text><text transform="translate(64.32,1292.80) scale(0.9223,1)" font-family="Liberation Sans" font-weight="normal" font-size="53.71" fill="#000" stroke="#000" stroke-width="0.4">0.0</text><text transform="translate(151.06,1359.00) scale(0.8848,1)" font-family="Liberation Sans" font-weight="normal" font-size="54.29" fill="#000" stroke="#000" stroke-width="0.4">1.0</text><text transform="translate(850.86,1358.50) scale(0.9063,1)" font-family="Liberation Sans" font-weight="normal" font-size="53.57" fill="#000" stroke="#000" stroke-width="0.4">0.5</text><text transform="translate(1551.74,1358.60) scale(0.9208,1)" font-family="Liberation Sans" font-weight="normal" font-size="53.14" fill="#000" stroke="#000" stroke-width="0.4">0.0</text><text transform="translate(1109.37,866.80) scale(0.8952,1)" font-family="Liberation Sans" font-weight="normal" font-size="45.34" fill="#000" stroke="#000" stroke-width="0.4">Observed</text><text transform="translate(1297.05,866.80) scale(0.9099,1)" font-family="Liberation Sans" font-weight="normal" font-size="45.34" fill="#000" stroke="#000" stroke-width="0.4">data</text><text transform="translate(1109.64,929.60) scale(0.9744,1)" font-family="Liberation Sans" font-weight="normal" font-size="42.19" fill="#000" stroke="#000" stroke-width="0.4">Summary</text><text transform="translate(1297.42,929.60) scale(0.9976,1)" font-family="Liberation Sans" font-weight="normal" font-size="42.19" fill="#000" stroke="#000" stroke-width="0.4">operating</text><text transform="translate(1482.75,929.60) scale(1.0331,1)" font-family="Liberation Sans" font-weight="normal" font-size="42.19" fill="#000" stroke="#000" stroke-width="0.4">point</text><text transform="translate(1109.86,973.50) scale(0.8593,1)" font-family="Liberation Sans" font-weight="normal" font-size="42.88" fill="#000" stroke="#000" stroke-width="0.4">SENS</text><text transform="translate(1222.52,973.50) scale(1.1564,1)" font-family="Liberation Sans" font-weight="normal" font-size="42.88" fill="#000" stroke="#000" stroke-width="0.4">=</text><text transform="translate(1265.04,973.50) scale(0.9689,1)" font-family="Liberation Sans" font-weight="normal" font-size="42.88" fill="#000" stroke="#000" stroke-width="0.4">0.84</text><text transform="translate(1358.64,973.50) scale(1.0194,1)" font-family="Liberation Sans" font-weight="normal" font-size="42.88" fill="#000" stroke="#000" stroke-width="0.4">[0.80-0.87]</text><text transform="translate(1109.93,1016.40) scale(0.8710,1)" font-family="Liberation Sans" font-weight="normal" font-size="40.68" fill="#000" stroke="#000" stroke-width="0.4">SPEC</text><text transform="translate(1219.48,1016.40) scale(1.1880,1)" font-family="Liberation Sans" font-weight="normal" font-size="40.68" fill="#000" stroke="#000" stroke-width="0.4">=</text><text transform="translate(1261.34,1016.40) scale(1.0188,1)" font-family="Liberation Sans" font-weight="normal" font-size="40.68" fill="#000" stroke="#000" stroke-width="0.4">0.78</text><text transform="translate(1354.65,1016.40) scale(1.0711,1)" font-family="Liberation Sans" font-weight="normal" font-size="40.68" fill="#000" stroke="#000" stroke-width="0.4">[0.72-0.84]</text><text transform="translate(1109.46,1080.60) scale(0.8510,1)" font-family="Liberation Sans" font-weight="normal" font-size="43.14" fill="#000" stroke="#000" stroke-width="0.4">SROC</text><text transform="translate(1227.24,1080.60) scale(0.9605,1)" font-family="Liberation Sans" font-weight="normal" font-size="43.14" fill="#000" stroke="#000" stroke-width="0.4">curve</text><text transform="translate(1111.30,1124.40) scale(0.8731,1)" font-family="Liberation Sans" font-weight="normal" font-size="42.60" fill="#000" stroke="#000" stroke-width="0.4">AUC</text><text transform="translate(1202.83,1124.40) scale(1.1150,1)" font-family="Liberation Sans" font-weight="normal" font-size="42.60" fill="#000" stroke="#000" stroke-width="0.4">=</text><text transform="translate(1245.04,1124.40) scale(0.9717,1)" font-family="Liberation Sans" font-weight="normal" font-size="42.60" fill="#000" stroke="#000" stroke-width="0.4">0.88</text><text transform="translate(1338.44,1124.40) scale(1.0264,1)" font-family="Liberation Sans" font-weight="normal" font-size="42.60" fill="#000" stroke="#000" stroke-width="0.4">[0.85-0.91]</text><text transform="translate(1109.70,1188.50) scale(1.0318,1)" font-family="Liberation Sans" font-weight="normal" font-size="42.60" fill="#000" stroke="#000" stroke-width="0.4">95%</text><text transform="translate(1210.36,1188.50) scale(0.9621,1)" font-family="Liberation Sans" font-weight="normal" font-size="42.60" fill="#000" stroke="#000" stroke-width="0.4">confidence</text><text transform="translate(1420.71,1188.50) scale(0.9897,1)" font-family="Liberation Sans" font-weight="normal" font-size="42.60" fill="#000" stroke="#000" stroke-width="0.4">contour</text><text transform="translate(1109.70,1250.90) scale(1.0768,1)" font-family="Liberation Sans" font-weight="normal" font-size="40.82" fill="#000" stroke="#000" stroke-width="0.4">95%</text><text transform="translate(1209.66,1250.90) scale(1.0283,1)" font-family="Liberation Sans" font-weight="normal" font-size="40.82" fill="#000" stroke="#000" stroke-width="0.4">prediction</text><text transform="translate(1403.51,1250.90) scale(1.0336,1)" font-family="Liberation Sans" font-weight="normal" font-size="40.82" fill="#000" stroke="#000" stroke-width="0.4">contour</text><text transform="translate(38.50,806.90) rotate(-90) scale(0.9640,1)" font-family="Liberation Sans" font-size="49.86" fill="#000" stroke="#000" stroke-width="0.4">Sensitivity</text>
<ellipse cx="1057.7" cy="850.6" rx="23.8" ry="19.5" fill="#fff" stroke="#000" stroke-width="4.0"/>
<path d="M1034.3,957 L1060.8,935.3 L1087.3,957 L1060.8,978.7 Z" fill="#8f303b"/>
<path d="M1040.5,1088 L1081,1088" stroke="#111" stroke-width="4.2"/>
<path d="M1040.5,1172.5 L1081,1172.5" stroke="#222" stroke-width="3.6"/>
<path d="M1040.5,1238 L1078,1238" stroke="#555" stroke-width="3.4" stroke-dasharray="3.2 13.5" stroke-dashoffset="0"/>
</svg></body></html>
